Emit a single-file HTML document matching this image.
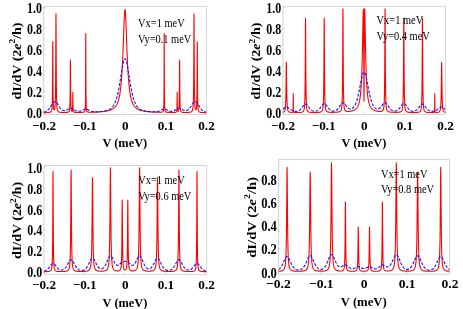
<!DOCTYPE html>
<html><head><meta charset="utf-8"><title>dI/dV</title>
<style>
html,body{margin:0;padding:0;background:#fff;}
svg{display:block;filter:blur(0.35px);}
text{font-family:"Liberation Serif",serif;fill:#000;}
.tk{font-size:12px;font-weight:bold;}
.xt{font-size:13.2px;font-weight:bold;}
.xl{font-size:12.4px;font-weight:bold;}
.ax{font-size:12px;font-weight:bold;}
.an{font-size:10.4px;}
</style></head><body>
<svg width="463" height="309" viewBox="0 0 463 309">
<rect width="463" height="309" fill="#fff"/>
<g id="p0">
<path d="M43.8,114.5v-2.2M64.1,114.5v-1.2M84.4,114.5v-2.2M104.7,114.5v-1.2M125,114.5v-2.2M145.3,114.5v-1.2M165.6,114.5v-2.2M185.9,114.5v-1.2M206.2,114.5v-2.2M43.7,112.8h2.2M43.7,107.55h1.2M43.7,102.3h1.2M43.7,97.05h1.2M43.7,91.8h2.2M43.7,86.55h1.2M43.7,81.3h1.2M43.7,76.05h1.2M43.7,70.8h2.2M43.7,65.55h1.2M43.7,60.3h1.2M43.7,55.05h1.2M43.7,49.8h2.2M43.7,44.55h1.2M43.7,39.3h1.2M43.7,34.05h1.2M43.7,28.8h2.2M43.7,23.55h1.2M43.7,18.3h1.2M43.7,13.05h1.2M43.7,7.8h2.2" stroke="#c8c8c8" stroke-width="0.6" fill="none"/>
<rect x="43.7" y="6.3" width="162.8" height="108.2" fill="none" stroke="#c8c8c8" stroke-width="0.75"/>
<clipPath id="c0"><rect x="43.7" y="6.3" width="162.8" height="108.2"/></clipPath>
<g clip-path="url(#c0)">
<path d="M43.7,112.64 L43.95,112.63 L44.2,112.63 L44.45,112.62 L44.7,112.62 L44.95,112.61 L45.2,112.61 L45.45,112.6 L45.7,112.59 L45.95,112.59 L46.2,112.58 L46.45,112.57 L46.7,112.56 L46.95,112.55 L47.2,112.54 L47.45,112.53 L47.7,112.51 L47.95,112.5 L48.2,112.48 L48.45,112.46 L48.7,112.43 L48.95,112.4 L49.2,112.37 L49.45,112.33 L49.7,112.28 L49.95,112.21 L50.2,112.13 L50.45,112.03 L50.7,111.89 L50.95,111.7 L51.2,111.41 L51.45,110.95 L51.61,110.48 L51.7,110.15 L51.95,108.55 L51.99,108.18 L52.17,105.25 L52.2,104.59 L52.36,98.17 L52.45,90.84 L52.45,90.58 L52.55,77.02 L52.62,60.45 L52.68,47.62 L52.7,43.81 L52.73,41.79 L52.79,47.58 L52.84,60.37 L52.92,76.9 L52.95,82.36 L53.01,90.39 L53.1,97.92 L53.2,102.32 L53.29,104.86 L53.45,107.35 L53.48,107.64 L53.7,109.08 L53.85,109.53 L53.95,109.7 L54.2,109.8 L54.45,109.49 L54.54,109.26 L54.7,108.7 L54.95,107.11 L55.02,106.39 L55.2,103.76 L55.26,102.41 L55.45,95.59 L55.5,92.6 L55.62,82 L55.7,70.67 L55.74,63.04 L55.84,39.83 L55.91,21.87 L55.95,15.25 L55.98,13.73 L56.05,21.89 L56.12,39.87 L56.2,58.91 L56.22,63.11 L56.34,82.1 L56.45,92.13 L56.46,92.74 L56.7,102.63 L56.7,102.66 L56.94,106.71 L56.95,106.84 L57.2,108.86 L57.42,109.87 L57.45,109.99 L57.7,110.67 L57.95,111.12 L58.2,111.43 L58.45,111.65 L58.7,111.81 L58.95,111.94 L59.2,112.04 L59.45,112.11 L59.7,112.17 L59.95,112.23 L60.2,112.27 L60.45,112.3 L60.7,112.33 L60.95,112.36 L61.2,112.38 L61.45,112.39 L61.7,112.41 L61.95,112.42 L62.2,112.43 L62.45,112.44 L62.7,112.45 L62.95,112.45 L63.2,112.46 L63.45,112.46 L63.7,112.47 L63.95,112.47 L64.2,112.47 L64.45,112.47 L64.7,112.46 L64.95,112.46 L65.2,112.46 L65.45,112.45 L65.7,112.44 L65.95,112.43 L66.2,112.42 L66.45,112.4 L66.7,112.38 L66.95,112.36 L67.2,112.33 L67.45,112.29 L67.7,112.24 L67.95,112.17 L68.2,112.08 L68.45,111.96 L68.7,111.77 L68.95,111.48 L69.15,111.12 L69.2,111.01 L69.45,110.13 L69.57,109.44 L69.7,108.24 L69.77,107.28 L69.95,103.14 L69.98,102.02 L70.08,96.36 L70.19,86.26 L70.2,84.47 L70.27,73.91 L70.33,64.34 L70.39,60.01 L70.45,63.72 L70.45,64.34 L70.52,73.9 L70.6,86.25 L70.7,96.12 L70.7,96.34 L70.81,101.98 L70.95,106.12 L71.01,107.22 L71.2,109.22 L71.22,109.36 L71.45,110.47 L71.63,110.94 L71.7,111.05 L71.95,111.28 L72.12,111.27 L72.2,111.19 L72.36,110.8 L72.45,110.25 L72.47,110.04 L72.59,108.09 L72.65,105.97 L72.7,103.02 L72.71,102.15 L72.76,97.47 L72.79,93.85 L72.83,92.22 L72.86,93.87 L72.9,97.52 L72.95,102.22 L72.95,102.46 L73.01,106.08 L73.07,108.24 L73.18,110.26 L73.2,110.42 L73.3,111.1 L73.45,111.6 L73.54,111.77 L73.7,111.97 L73.95,112.14 L74.2,112.23 L74.45,112.29 L74.7,112.33 L74.95,112.35 L75.2,112.37 L75.45,112.39 L75.7,112.4 L75.95,112.41 L76.2,112.42 L76.45,112.43 L76.7,112.43 L76.95,112.43 L77.2,112.43 L77.45,112.44 L77.7,112.44 L77.95,112.44 L78.2,112.44 L78.45,112.44 L78.7,112.43 L78.95,112.43 L79.2,112.43 L79.45,112.43 L79.7,112.42 L79.95,112.42 L80.2,112.41 L80.45,112.41 L80.7,112.4 L80.95,112.39 L81.2,112.38 L81.45,112.38 L81.7,112.36 L81.95,112.35 L82.2,112.34 L82.45,112.32 L82.7,112.29 L82.95,112.27 L83.2,112.23 L83.45,112.18 L83.7,112.12 L83.95,112.03 L84.2,111.9 L84.45,111.69 L84.7,111.32 L84.95,110.58 L85.02,110.27 L85.2,108.77 L85.27,107.76 L85.4,104.51 L85.45,102.18 L85.53,96.64 L85.59,88.16 L85.65,73.01 L85.7,56.04 L85.7,54.48 L85.74,40.14 L85.78,33.63 L85.82,40.13 L85.86,54.48 L85.91,73.01 L85.95,83.95 L85.97,88.15 L86.04,96.63 L86.16,104.5 L86.2,105.72 L86.29,107.74 L86.45,109.62 L86.55,110.24 L86.7,110.88 L86.95,111.44 L87.2,111.73 L87.45,111.89 L87.7,112 L87.95,112.07 L88.2,112.12 L88.45,112.15 L88.7,112.17 L88.95,112.19 L89.2,112.2 L89.45,112.21 L89.7,112.21 L89.95,112.22 L90.2,112.22 L90.45,112.22 L90.7,112.22 L90.95,112.21 L91.2,112.21 L91.45,112.21 L91.7,112.2 L91.95,112.2 L92.2,112.19 L92.45,112.18 L92.7,112.18 L92.95,112.17 L93.2,112.16 L93.45,112.16 L93.7,112.15 L93.95,112.14 L94.2,112.13 L94.45,112.12 L94.7,112.11 L94.95,112.1 L95.2,112.09 L95.45,112.08 L95.7,112.07 L95.95,112.06 L96.2,112.05 L96.45,112.03 L96.7,112.02 L96.95,112.01 L97.2,111.99 L97.45,111.98 L97.7,111.97 L97.95,111.95 L98.2,111.94 L98.45,111.92 L98.7,111.91 L98.95,111.89 L99.2,111.87 L99.45,111.86 L99.7,111.84 L99.95,111.82 L100.2,111.8 L100.45,111.78 L100.7,111.76 L100.95,111.74 L101.2,111.72 L101.45,111.69 L101.7,111.67 L101.95,111.65 L102.2,111.62 L102.45,111.6 L102.7,111.57 L102.95,111.54 L103.2,111.52 L103.45,111.49 L103.7,111.46 L103.95,111.43 L104.2,111.39 L104.45,111.36 L104.7,111.32 L104.95,111.29 L105.2,111.25 L105.45,111.21 L105.7,111.17 L105.95,111.13 L106.2,111.09 L106.45,111.04 L106.7,110.99 L106.95,110.95 L107.2,110.89 L107.45,110.84 L107.7,110.79 L107.95,110.73 L108.2,110.67 L108.45,110.6 L108.7,110.54 L108.95,110.47 L109.2,110.4 L109.45,110.32 L109.7,110.24 L109.95,110.16 L110.2,110.07 L110.4,110 L110.45,109.98 L110.7,109.88 L110.95,109.78 L111.2,109.67 L111.45,109.56 L111.7,109.44 L111.95,109.32 L112.2,109.19 L112.45,109.05 L112.7,108.9 L112.95,108.74 L113.2,108.58 L113.45,108.4 L113.7,108.21 L113.95,108.01 L114.2,107.8 L114.45,107.57 L114.7,107.33 L114.95,107.07 L115.2,106.79 L115.27,106.71 L115.45,106.49 L115.7,106.17 L115.95,105.82 L116.2,105.45 L116.45,105.05 L116.7,104.61 L116.95,104.14 L117.2,103.62 L117.45,103.06 L117.7,102.45 L117.7,102.45 L117.95,101.79 L118.2,101.06 L118.45,100.26 L118.7,99.37 L118.95,98.4 L119.2,97.32 L119.45,96.12 L119.7,94.79 L119.95,93.31 L120.13,92.11 L120.2,91.66 L120.45,89.8 L120.7,87.72 L120.95,85.37 L121.2,82.73 L121.35,80.97 L121.45,79.74 L121.7,76.38 L121.95,72.58 L122.2,68.3 L122.45,63.51 L122.57,61.08 L122.7,58.18 L122.95,52.31 L123.2,45.96 L123.45,39.23 L123.54,36.75 L123.7,32.34 L123.95,25.61 L124.2,19.46 L124.27,17.91 L124.45,14.4 L124.7,10.92 L124.95,9.41 L125,9.37 L125.2,10.06 L125.45,12.79 L125.7,17.28 L125.73,17.91 L125.95,23.05 L126.2,29.61 L126.45,36.48 L126.46,36.75 L126.7,43.3 L126.95,49.83 L127.2,55.9 L127.43,61.08 L127.45,61.45 L127.7,66.45 L127.95,70.93 L128.2,74.91 L128.45,78.45 L128.65,80.97 L128.7,81.58 L128.95,84.35 L129.2,86.81 L129.45,89 L129.7,90.94 L129.87,92.11 L129.95,92.67 L130.2,94.22 L130.45,95.61 L130.7,96.86 L130.95,97.98 L131.2,98.99 L131.45,99.91 L131.7,100.75 L131.95,101.5 L132.2,102.2 L132.3,102.45 L132.45,102.83 L132.7,103.41 L132.95,103.94 L133.2,104.43 L133.45,104.88 L133.7,105.29 L133.95,105.68 L134.2,106.03 L134.45,106.36 L134.7,106.67 L134.73,106.71 L134.95,106.96 L135.2,107.23 L135.45,107.48 L135.7,107.71 L135.95,107.93 L136.2,108.13 L136.45,108.33 L136.7,108.51 L136.95,108.68 L137.2,108.84 L137.45,108.99 L137.7,109.13 L137.95,109.27 L138.2,109.39 L138.45,109.52 L138.7,109.63 L138.95,109.74 L139.2,109.84 L139.45,109.94 L139.6,110 L139.7,110.03 L139.95,110.12 L140.2,110.21 L140.45,110.29 L140.7,110.37 L140.95,110.44 L141.2,110.51 L141.45,110.58 L141.7,110.64 L141.95,110.7 L142.2,110.76 L142.45,110.82 L142.7,110.87 L142.95,110.92 L143.2,110.97 L143.45,111.02 L143.7,111.07 L143.95,111.11 L144.2,111.16 L144.45,111.2 L144.7,111.24 L144.95,111.27 L145.2,111.31 L145.45,111.35 L145.7,111.38 L145.95,111.41 L146.2,111.44 L146.45,111.47 L146.7,111.5 L146.95,111.53 L147.2,111.56 L147.45,111.59 L147.7,111.61 L147.95,111.64 L148.2,111.66 L148.45,111.69 L148.7,111.71 L148.95,111.73 L149.2,111.75 L149.45,111.77 L149.7,111.79 L149.95,111.81 L150.2,111.83 L150.45,111.85 L150.7,111.87 L150.95,111.88 L151.2,111.9 L151.45,111.92 L151.7,111.93 L151.95,111.95 L152.2,111.96 L152.45,111.98 L152.7,111.99 L152.95,112 L153.2,112.02 L153.45,112.03 L153.7,112.04 L153.95,112.05 L154.2,112.06 L154.45,112.08 L154.7,112.09 L154.95,112.1 L155.2,112.11 L155.45,112.12 L155.7,112.13 L155.95,112.13 L156.2,112.14 L156.45,112.15 L156.7,112.16 L156.95,112.17 L157.2,112.17 L157.45,112.18 L157.7,112.19 L157.95,112.19 L158.2,112.2 L158.45,112.2 L158.7,112.21 L158.95,112.21 L159.2,112.21 L159.45,112.22 L159.7,112.22 L159.95,112.22 L160.2,112.21 L160.45,112.21 L160.7,112.2 L160.95,112.19 L161.2,112.18 L161.45,112.16 L161.7,112.13 L161.95,112.09 L162.2,112.03 L162.45,111.94 L162.7,111.8 L162.95,111.57 L163.2,111.15 L163.45,110.26 L163.45,110.24 L163.7,107.9 L163.71,107.74 L163.84,104.5 L163.95,97.99 L163.96,96.63 L164.03,88.15 L164.09,73.01 L164.14,54.48 L164.18,40.13 L164.2,35.45 L164.22,33.63 L164.26,40.14 L164.3,54.48 L164.35,73.01 L164.41,88.16 L164.45,93.93 L164.47,96.64 L164.6,104.51 L164.7,107.21 L164.73,107.76 L164.95,110.07 L164.98,110.27 L165.2,111.09 L165.45,111.57 L165.7,111.83 L165.95,111.99 L166.2,112.09 L166.45,112.16 L166.7,112.21 L166.95,112.25 L167.2,112.28 L167.45,112.31 L167.7,112.33 L167.95,112.35 L168.2,112.36 L168.45,112.37 L168.7,112.38 L168.95,112.39 L169.2,112.4 L169.45,112.4 L169.7,112.41 L169.95,112.42 L170.2,112.42 L170.45,112.42 L170.7,112.43 L170.95,112.43 L171.2,112.43 L171.45,112.43 L171.7,112.44 L171.95,112.44 L172.2,112.44 L172.45,112.44 L172.7,112.44 L172.95,112.43 L173.2,112.43 L173.45,112.43 L173.7,112.42 L173.95,112.42 L174.2,112.41 L174.45,112.4 L174.7,112.38 L174.95,112.36 L175.2,112.34 L175.45,112.3 L175.7,112.26 L175.95,112.18 L176.2,112.05 L176.45,111.79 L176.46,111.77 L176.7,111.1 L176.7,111.09 L176.82,110.26 L176.93,108.24 L176.95,107.79 L176.99,106.08 L177.05,102.22 L177.1,97.52 L177.14,93.87 L177.17,92.22 L177.2,93.34 L177.21,93.85 L177.24,97.47 L177.29,102.15 L177.35,105.97 L177.41,108.09 L177.45,109.03 L177.53,110.04 L177.64,110.8 L177.7,110.99 L177.88,111.27 L177.95,111.29 L178.2,111.18 L178.37,110.94 L178.45,110.76 L178.7,109.84 L178.78,109.36 L178.95,107.74 L178.99,107.22 L179.19,101.98 L179.2,101.72 L179.3,96.34 L179.4,86.25 L179.45,79.21 L179.48,73.9 L179.55,64.34 L179.61,60.01 L179.67,64.34 L179.7,68.85 L179.73,73.91 L179.81,86.26 L179.92,96.36 L179.95,98.54 L180.02,102.02 L180.2,106.84 L180.23,107.28 L180.43,109.44 L180.45,109.55 L180.7,110.72 L180.85,111.12 L180.95,111.32 L181.2,111.67 L181.45,111.89 L181.7,112.04 L181.95,112.14 L182.2,112.21 L182.45,112.27 L182.7,112.31 L182.95,112.35 L183.2,112.37 L183.45,112.39 L183.7,112.41 L183.95,112.43 L184.2,112.44 L184.45,112.45 L184.7,112.45 L184.95,112.46 L185.2,112.46 L185.45,112.46 L185.7,112.47 L185.95,112.47 L186.2,112.47 L186.45,112.46 L186.7,112.46 L186.95,112.46 L187.2,112.45 L187.45,112.44 L187.7,112.44 L187.95,112.43 L188.2,112.41 L188.45,112.4 L188.7,112.38 L188.95,112.36 L189.2,112.34 L189.45,112.31 L189.7,112.28 L189.95,112.24 L190.2,112.2 L190.45,112.14 L190.7,112.07 L190.95,111.98 L191.2,111.87 L191.45,111.72 L191.7,111.52 L191.95,111.25 L192.2,110.87 L192.45,110.3 L192.58,109.87 L192.7,109.39 L192.95,107.81 L193.06,106.71 L193.2,104.75 L193.3,102.63 L193.45,97.67 L193.54,92.74 L193.66,82.1 L193.7,77.02 L193.78,63.11 L193.88,39.87 L193.95,21.89 L193.95,21.5 L194.02,13.73 L194.09,21.87 L194.16,39.83 L194.2,49.32 L194.26,63.04 L194.38,82 L194.45,88.98 L194.5,92.6 L194.7,101.4 L194.74,102.41 L194.95,106.07 L194.98,106.39 L195.2,108.19 L195.45,109.24 L195.46,109.26 L195.7,109.72 L195.95,109.79 L196.15,109.53 L196.2,109.41 L196.45,108.25 L196.52,107.64 L196.7,105.05 L196.71,104.86 L196.9,97.92 L196.95,94.03 L196.99,90.39 L197.08,76.9 L197.16,60.37 L197.2,50.03 L197.21,47.58 L197.27,41.79 L197.32,47.62 L197.38,60.45 L197.45,76.19 L197.45,77.02 L197.55,90.58 L197.64,98.17 L197.7,101.22 L197.83,105.25 L197.95,107.42 L198.01,108.18 L198.2,109.65 L198.39,110.48 L198.45,110.68 L198.7,111.25 L198.95,111.59 L199.2,111.82 L199.45,111.98 L199.7,112.1 L199.95,112.18 L200.2,112.25 L200.45,112.31 L200.7,112.35 L200.95,112.39 L201.2,112.42 L201.45,112.45 L201.7,112.47 L201.95,112.49 L202.2,112.51 L202.45,112.52 L202.7,112.53 L202.95,112.55 L203.2,112.56 L203.45,112.57 L203.7,112.58 L203.95,112.58 L204.2,112.59 L204.45,112.6 L204.7,112.6 L204.95,112.61 L205.2,112.62 L205.45,112.62 L205.7,112.63 L205.95,112.63 L206.2,112.63 L206.45,112.64 L206.5,112.64" fill="none" stroke="#ff0000" stroke-width="1.1" stroke-linejoin="round"/>
<path d="M43.7,112.17 L44.2,112.05 L44.7,111.91 L45.2,111.74 L45.7,111.53 L46.2,111.28 L46.7,110.98 L47.2,110.63 L47.7,110.21 L48.2,109.73 L48.7,109.18 L49.2,108.56 L49.7,107.88 L50.2,107.14 L50.7,106.36 L51.2,105.56 L51.7,104.76 L52.2,104 L52.7,103.31 L53.2,102.7 L53.7,102.21 L54.2,101.86 L54.7,101.67 L55.2,101.65 L55.7,101.82 L56.2,102.16 L56.7,102.68 L57.2,103.32 L57.7,104.08 L58.2,104.89 L58.7,105.72 L59.2,106.54 L59.7,107.31 L60.2,108.02 L60.7,108.65 L61.2,109.19 L61.7,109.64 L62.2,110 L62.7,110.28 L63.2,110.48 L63.7,110.6 L64.2,110.66 L64.7,110.64 L65.2,110.56 L65.7,110.43 L66.2,110.23 L66.7,110 L67.2,109.72 L67.7,109.43 L68.2,109.12 L68.7,108.83 L69.2,108.58 L69.7,108.38 L70.2,108.25 L70.7,108.2 L71.2,108.24 L71.7,108.36 L72.2,108.55 L72.7,108.8 L73.2,109.09 L73.7,109.41 L74.2,109.72 L74.7,110.03 L75.2,110.32 L75.7,110.58 L76.2,110.81 L76.7,110.99 L77.2,111.14 L77.7,111.24 L78.2,111.3 L78.7,111.32 L79.2,111.3 L79.7,111.24 L80.2,111.13 L80.7,110.99 L81.2,110.8 L81.7,110.59 L82.2,110.34 L82.7,110.07 L83.2,109.8 L83.7,109.53 L84.2,109.3 L84.7,109.1 L85.2,108.97 L85.7,108.92 L86.2,108.94 L86.7,109.04 L87.2,109.21 L87.7,109.43 L88.2,109.69 L88.7,109.96 L89.2,110.24 L89.7,110.5 L90.2,110.75 L90.7,110.97 L91.2,111.16 L91.7,111.32 L92.2,111.45 L92.7,111.57 L93.2,111.65 L93.7,111.72 L94.2,111.78 L94.7,111.81 L95.2,111.84 L95.7,111.85 L96.2,111.86 L96.7,111.86 L97.2,111.85 L97.7,111.83 L98.2,111.81 L98.7,111.78 L99.2,111.75 L99.7,111.71 L100.2,111.67 L100.7,111.63 L101.2,111.58 L101.7,111.52 L102.2,111.46 L102.7,111.4 L103.2,111.32 L103.7,111.24 L104.2,111.16 L104.7,111.06 L105.2,110.96 L105.7,110.84 L106.2,110.71 L106.7,110.57 L107.2,110.41 L107.7,110.23 L108.2,110.04 L108.7,109.82 L109.2,109.57 L109.7,109.29 L110.2,108.98 L110.7,108.63 L111.2,108.23 L111.7,107.77 L112.2,107.26 L112.7,106.67 L113.2,106 L113.7,105.23 L114.2,104.36 L114.7,103.37 L115.2,102.25 L115.7,100.97 L116.2,99.53 L116.7,97.9 L117.2,96.07 L117.7,94.03 L118.2,91.77 L118.7,89.29 L119.2,86.6 L119.7,83.72 L120.2,80.67 L120.7,77.51 L121.2,74.31 L121.7,71.15 L122.2,68.12 L122.7,65.34 L123.2,62.92 L123.7,60.98 L124.2,59.59 L124.7,58.85 L125.2,58.78 L125.7,59.39 L126.2,60.65 L126.7,62.49 L127.2,64.82 L127.7,67.54 L128.2,70.53 L128.7,73.67 L129.2,76.87 L129.7,80.05 L130.2,83.12 L130.7,86.04 L131.2,88.77 L131.7,91.29 L132.2,93.59 L132.7,95.68 L133.2,97.55 L133.7,99.22 L134.2,100.7 L134.7,102.01 L135.2,103.16 L135.7,104.18 L136.2,105.07 L136.7,105.85 L137.2,106.54 L137.7,107.14 L138.2,107.67 L138.7,108.14 L139.2,108.55 L139.7,108.91 L140.2,109.24 L140.7,109.52 L141.2,109.77 L141.7,110 L142.2,110.2 L142.7,110.38 L143.2,110.54 L143.7,110.68 L144.2,110.81 L144.7,110.93 L145.2,111.04 L145.7,111.14 L146.2,111.23 L146.7,111.31 L147.2,111.38 L147.7,111.45 L148.2,111.51 L148.7,111.57 L149.2,111.62 L149.7,111.67 L150.2,111.71 L150.7,111.74 L151.2,111.78 L151.7,111.8 L152.2,111.83 L152.7,111.84 L153.2,111.85 L153.7,111.86 L154.2,111.86 L154.7,111.84 L155.2,111.82 L155.7,111.79 L156.2,111.74 L156.7,111.67 L157.2,111.59 L157.7,111.48 L158.2,111.35 L158.7,111.19 L159.2,111.01 L159.7,110.79 L160.2,110.55 L160.7,110.29 L161.2,110.02 L161.7,109.74 L162.2,109.48 L162.7,109.25 L163.2,109.07 L163.7,108.95 L164.2,108.91 L164.7,108.96 L165.2,109.07 L165.7,109.25 L166.2,109.48 L166.7,109.75 L167.2,110.02 L167.7,110.29 L168.2,110.54 L168.7,110.76 L169.2,110.95 L169.7,111.11 L170.2,111.22 L170.7,111.29 L171.2,111.32 L171.7,111.31 L172.2,111.25 L172.7,111.16 L173.2,111.02 L173.7,110.85 L174.2,110.63 L174.7,110.38 L175.2,110.09 L175.7,109.79 L176.2,109.47 L176.7,109.16 L177.2,108.86 L177.7,108.6 L178.2,108.39 L178.7,108.26 L179.2,108.2 L179.7,108.23 L180.2,108.34 L180.7,108.53 L181.2,108.78 L181.7,109.06 L182.2,109.36 L182.7,109.66 L183.2,109.94 L183.7,110.19 L184.2,110.39 L184.7,110.54 L185.2,110.63 L185.7,110.66 L186.2,110.62 L186.7,110.51 L187.2,110.33 L187.7,110.06 L188.2,109.72 L188.7,109.28 L189.2,108.76 L189.7,108.15 L190.2,107.46 L190.7,106.7 L191.2,105.89 L191.7,105.05 L192.2,104.23 L192.7,103.47 L193.2,102.8 L193.7,102.25 L194.2,101.87 L194.7,101.67 L195.2,101.65 L195.7,101.81 L196.2,102.13 L196.7,102.59 L197.2,103.18 L197.7,103.86 L198.2,104.61 L198.7,105.4 L199.2,106.2 L199.7,106.98 L200.2,107.73 L200.7,108.43 L201.2,109.06 L201.7,109.63 L202.2,110.12 L202.7,110.55 L203.2,110.92 L203.7,111.22 L204.2,111.48 L204.7,111.7 L205.2,111.88 L205.7,112.02 L206.2,112.14" fill="none" stroke="#1a1aff" stroke-width="1.15" stroke-dasharray="3,1.5" stroke-linejoin="round"/>
</g>
<text transform="translate(42.1,118.4) scale(1.0,1.13)" text-anchor="end" class="tk">0.0</text>
<text transform="translate(42.1,97.4) scale(1.0,1.13)" text-anchor="end" class="tk">0.2</text>
<text transform="translate(42.1,76.4) scale(1.0,1.13)" text-anchor="end" class="tk">0.4</text>
<text transform="translate(42.1,55.4) scale(1.0,1.13)" text-anchor="end" class="tk">0.6</text>
<text transform="translate(42.1,34.4) scale(1.0,1.13)" text-anchor="end" class="tk">0.8</text>
<text transform="translate(42.1,13.4) scale(1.0,1.13)" text-anchor="end" class="tk">1.0</text>
<text transform="translate(44.1,129.5) scale(1.0,0.98)" text-anchor="middle" class="xt">−0.2</text>
<text transform="translate(84.7,129.5) scale(1.0,0.98)" text-anchor="middle" class="xt">−0.1</text>
<text transform="translate(125.3,129.5) scale(1.0,0.98)" text-anchor="middle" class="xt">0</text>
<text transform="translate(165.9,129.5) scale(1.0,0.98)" text-anchor="middle" class="xt">0.1</text>
<text transform="translate(206.5,129.5) scale(1.0,0.98)" text-anchor="middle" class="xt">0.2</text>
<text transform="translate(124.8,146.9) scale(1.0,1.05)" text-anchor="middle" class="xl">V (meV)</text>
<text transform="translate(21.1,61) rotate(-90) scale(1.166,1.0)" text-anchor="middle" class="ax">dI/dV (2<tspan font-style="italic">e</tspan><tspan dy="-5.8" font-size="8">2</tspan><tspan dy="5.8">/h)</tspan></text>
<text transform="translate(138.1,27.2) scale(1.0,1.18)" text-anchor="start" class="an">Vx=1 meV</text>
<text transform="translate(138.1,42.6) scale(1.0,1.18)" text-anchor="start" class="an">Vy=0.1 meV</text>
</g>
<g id="p1">
<path d="M282.7,114.5v-2.2M303.02,114.5v-1.2M323.35,114.5v-2.2M343.68,114.5v-1.2M364,114.5v-2.2M384.32,114.5v-1.2M404.65,114.5v-2.2M424.98,114.5v-1.2M445.3,114.5v-2.2M282.9,112.8h2.2M282.9,107.55h1.2M282.9,102.3h1.2M282.9,97.05h1.2M282.9,91.8h2.2M282.9,86.55h1.2M282.9,81.3h1.2M282.9,76.05h1.2M282.9,70.8h2.2M282.9,65.55h1.2M282.9,60.3h1.2M282.9,55.05h1.2M282.9,49.8h2.2M282.9,44.55h1.2M282.9,39.3h1.2M282.9,34.05h1.2M282.9,28.8h2.2M282.9,23.55h1.2M282.9,18.3h1.2M282.9,13.05h1.2M282.9,7.8h2.2" stroke="#c8c8c8" stroke-width="0.6" fill="none"/>
<rect x="282.9" y="6.3" width="162.7" height="108.2" fill="none" stroke="#c8c8c8" stroke-width="0.75"/>
<clipPath id="c1"><rect x="282.9" y="6.3" width="162.7" height="108.2"/></clipPath>
<g clip-path="url(#c1)">
<path d="M282.9,112.25 L283.15,112.17 L283.4,112.07 L283.65,111.94 L283.9,111.77 L284.15,111.55 L284.3,111.37 L284.4,111.23 L284.65,110.78 L284.9,110.09 L284.99,109.77 L285.15,108.97 L285.33,107.69 L285.4,107.01 L285.65,103.15 L285.67,102.65 L285.84,97.22 L285.9,94.64 L286.02,87.53 L286.15,75.92 L286.15,75.67 L286.26,66.49 L286.36,62.33 L286.4,63.05 L286.46,66.49 L286.56,75.67 L286.65,83.45 L286.7,87.52 L286.87,97.22 L286.9,98.29 L287.04,102.64 L287.15,104.75 L287.39,107.68 L287.4,107.79 L287.65,109.4 L287.73,109.75 L287.9,110.34 L288.15,110.93 L288.4,111.33 L288.42,111.35 L288.65,111.61 L288.9,111.81 L289.15,111.96 L289.4,112.07 L289.65,112.16 L289.9,112.23 L290.15,112.29 L290.4,112.33 L290.65,112.37 L290.9,112.4 L291.15,112.42 L291.4,112.44 L291.65,112.44 L291.9,112.44 L292.15,112.42 L292.4,112.37 L292.65,112.22 L292.78,112.04 L292.9,111.68 L292.94,111.44 L293.03,110.67 L293.11,108.78 L293.15,106.74 L293.15,106.55 L293.19,103.11 L293.22,98.67 L293.24,95.22 L293.27,93.66 L293.29,95.22 L293.32,98.67 L293.35,103.12 L293.39,106.75 L293.4,107.31 L293.43,108.79 L293.51,110.68 L293.59,111.46 L293.65,111.75 L293.76,112.06 L293.9,112.27 L294.15,112.42 L294.4,112.49 L294.65,112.52 L294.9,112.54 L295.15,112.55 L295.4,112.56 L295.65,112.57 L295.9,112.57 L296.15,112.57 L296.4,112.57 L296.65,112.57 L296.9,112.57 L297.15,112.57 L297.4,112.56 L297.65,112.56 L297.9,112.55 L298.15,112.54 L298.4,112.54 L298.65,112.53 L298.9,112.52 L299.15,112.51 L299.4,112.49 L299.65,112.48 L299.9,112.46 L300.15,112.44 L300.4,112.41 L300.65,112.39 L300.9,112.35 L301.15,112.31 L301.4,112.27 L301.65,112.21 L301.9,112.15 L302.15,112.07 L302.4,111.97 L302.65,111.84 L302.9,111.67 L303.15,111.45 L303.4,111.15 L303.65,110.73 L303.89,110.13 L303.9,110.11 L304.15,109.14 L304.4,107.52 L304.44,107.12 L304.65,104.52 L304.72,103.23 L304.9,98.14 L304.99,93.78 L305.13,83.6 L305.15,81.83 L305.27,65.43 L305.38,43.19 L305.4,38.78 L305.46,25.98 L305.55,18.18 L305.63,25.98 L305.65,30.13 L305.71,43.19 L305.82,65.43 L305.9,77.17 L305.96,83.6 L306.1,93.77 L306.15,96.46 L306.37,103.22 L306.4,103.8 L306.65,107.11 L306.65,107.15 L306.9,108.93 L307.15,109.97 L307.2,110.12 L307.4,110.63 L307.65,111.08 L307.9,111.39 L308.15,111.62 L308.4,111.79 L308.65,111.92 L308.9,112.03 L309.15,112.11 L309.4,112.18 L309.65,112.23 L309.9,112.28 L310.15,112.31 L310.4,112.35 L310.65,112.37 L310.9,112.39 L311.15,112.41 L311.4,112.43 L311.65,112.44 L311.9,112.46 L312.15,112.47 L312.4,112.47 L312.65,112.48 L312.9,112.49 L313.15,112.49 L313.4,112.5 L313.65,112.5 L313.9,112.5 L314.15,112.5 L314.4,112.5 L314.65,112.5 L314.9,112.5 L315.15,112.5 L315.4,112.49 L315.65,112.49 L315.9,112.49 L316.15,112.48 L316.4,112.47 L316.65,112.47 L316.9,112.46 L317.15,112.45 L317.4,112.44 L317.65,112.42 L317.9,112.41 L318.15,112.39 L318.4,112.38 L318.65,112.35 L318.9,112.33 L319.15,112.3 L319.4,112.27 L319.65,112.23 L319.9,112.18 L320.15,112.13 L320.4,112.06 L320.65,111.98 L320.9,111.88 L321.15,111.76 L321.4,111.6 L321.65,111.4 L321.9,111.13 L322.15,110.75 L322.4,110.21 L322.46,110.05 L322.65,109.41 L322.9,108.13 L323.04,107.04 L323.15,105.93 L323.33,103.14 L323.4,101.69 L323.62,93.69 L323.65,92.22 L323.77,83.51 L323.9,67.47 L323.91,65.34 L324.03,43.1 L324.12,25.89 L324.15,21.21 L324.2,18.09 L324.29,25.89 L324.38,43.1 L324.4,47.76 L324.49,65.33 L324.64,83.51 L324.65,84.5 L324.78,93.68 L324.9,98.59 L325.07,103.13 L325.15,104.45 L325.36,107.02 L325.4,107.32 L325.65,108.92 L325.9,109.88 L325.95,110.02 L326.15,110.51 L326.4,110.94 L326.65,111.25 L326.9,111.48 L327.15,111.65 L327.4,111.78 L327.65,111.88 L327.9,111.97 L328.15,112.03 L328.4,112.09 L328.65,112.13 L328.9,112.17 L329.15,112.2 L329.4,112.23 L329.65,112.25 L329.9,112.27 L330.15,112.28 L330.4,112.3 L330.65,112.31 L330.9,112.32 L331.15,112.32 L331.4,112.33 L331.65,112.33 L331.9,112.33 L332.15,112.34 L332.4,112.34 L332.65,112.34 L332.9,112.33 L333.15,112.33 L333.4,112.33 L333.65,112.33 L333.9,112.32 L334.15,112.31 L334.4,112.31 L334.65,112.3 L334.9,112.29 L335.15,112.28 L335.4,112.27 L335.65,112.26 L335.9,112.24 L336.15,112.23 L336.4,112.21 L336.65,112.19 L336.9,112.17 L337.15,112.15 L337.4,112.12 L337.65,112.09 L337.9,112.06 L338.15,112.02 L338.4,111.98 L338.65,111.93 L338.9,111.87 L339.15,111.8 L339.4,111.71 L339.65,111.61 L339.9,111.48 L340.15,111.31 L340.4,111.1 L340.65,110.82 L340.9,110.44 L341.15,109.9 L341.29,109.47 L341.4,109.08 L341.65,107.78 L341.84,106.16 L341.9,105.53 L342.12,101.88 L342.15,101.14 L342.39,91.53 L342.4,91.15 L342.53,80.38 L342.65,63.85 L342.67,60.49 L342.78,36.15 L342.86,17.31 L342.9,11.27 L342.94,8.76 L343.03,17.3 L343.11,36.13 L343.15,46.12 L343.22,60.46 L343.36,80.34 L343.4,84.67 L343.49,91.47 L343.65,98.56 L343.77,101.8 L343.9,104.25 L344.04,106.04 L344.15,107.02 L344.4,108.55 L344.59,109.29 L344.65,109.47 L344.9,110.07 L345.15,110.47 L345.4,110.75 L345.65,110.96 L345.9,111.1 L346.15,111.21 L346.4,111.3 L346.65,111.36 L346.9,111.4 L347.15,111.43 L347.4,111.45 L347.65,111.47 L347.9,111.47 L348.15,111.47 L348.4,111.46 L348.65,111.45 L348.9,111.44 L349.15,111.42 L349.4,111.39 L349.65,111.36 L349.9,111.33 L350.15,111.3 L350.4,111.26 L350.65,111.22 L350.9,111.17 L351.15,111.12 L351.4,111.07 L351.65,111.01 L351.9,110.94 L352.15,110.88 L352.4,110.8 L352.65,110.73 L352.9,110.64 L353.15,110.55 L353.4,110.45 L353.65,110.35 L353.9,110.24 L354.15,110.11 L354.4,109.98 L354.65,109.84 L354.9,109.68 L355.15,109.51 L355.4,109.33 L355.65,109.13 L355.9,108.91 L356.15,108.67 L356.4,108.41 L356.65,108.12 L356.9,107.8 L357.15,107.45 L357.4,107.06 L357.65,106.62 L357.9,106.13 L358.15,105.58 L358.4,104.96 L358.65,104.25 L358.9,103.45 L359.15,102.53 L359.4,101.47 L359.65,100.24 L359.9,98.8 L360.15,97.11 L360.4,95.11 L360.65,92.72 L360.9,89.83 L361.15,86.33 L361.4,82.03 L361.56,78.73 L361.65,76.71 L361.9,70.09 L362.15,61.83 L362.37,52.76 L362.4,51.59 L362.65,39.24 L362.78,32.07 L362.9,25.33 L363.15,12.65 L363.19,11.27 L363.39,9.28 L363.4,9.53 L363.59,25.21 L363.65,34.53 L363.76,57.79 L363.88,87.16 L363.9,91.44 L364,101.14 L364.12,87.16 L364.15,80.96 L364.24,57.79 L364.4,26.17 L364.41,25.21 L364.61,9.28 L364.65,8.66 L364.81,11.27 L364.9,14.81 L365.15,28.15 L365.22,32.07 L365.4,41.87 L365.63,52.76 L365.65,53.81 L365.9,63.63 L366.15,71.53 L366.4,77.87 L366.44,78.73 L366.65,82.96 L366.9,87.09 L367.15,90.46 L367.4,93.23 L367.65,95.54 L367.9,97.47 L368.15,99.11 L368.4,100.5 L368.65,101.69 L368.9,102.72 L369.15,103.62 L369.4,104.4 L369.65,105.09 L369.9,105.7 L370.15,106.23 L370.4,106.71 L370.65,107.14 L370.9,107.52 L371.15,107.87 L371.4,108.18 L371.65,108.47 L371.9,108.72 L372.15,108.96 L372.4,109.17 L372.65,109.37 L372.9,109.55 L373.15,109.71 L373.4,109.87 L373.65,110.01 L373.9,110.14 L374.15,110.26 L374.4,110.37 L374.65,110.47 L374.9,110.57 L375.15,110.66 L375.4,110.74 L375.65,110.82 L375.9,110.89 L376.15,110.96 L376.4,111.02 L376.65,111.08 L376.9,111.13 L377.15,111.18 L377.4,111.23 L377.65,111.27 L377.9,111.3 L378.15,111.34 L378.4,111.37 L378.65,111.4 L378.9,111.42 L379.15,111.44 L379.4,111.45 L379.65,111.46 L379.9,111.47 L380.15,111.47 L380.4,111.46 L380.65,111.45 L380.9,111.43 L381.15,111.39 L381.4,111.35 L381.65,111.28 L381.9,111.19 L382.15,111.08 L382.4,110.92 L382.65,110.7 L382.9,110.4 L383.15,109.97 L383.4,109.32 L383.41,109.29 L383.65,108.3 L383.9,106.6 L383.96,106.04 L384.15,103.44 L384.23,101.8 L384.4,96.74 L384.51,91.47 L384.64,80.34 L384.65,79.75 L384.78,60.46 L384.89,36.13 L384.9,34.13 L384.97,17.3 L385.06,8.76 L385.14,17.31 L385.15,19.46 L385.22,36.15 L385.33,60.49 L385.4,71.82 L385.47,80.38 L385.61,91.53 L385.65,93.95 L385.88,101.88 L385.9,102.3 L386.15,106.09 L386.16,106.16 L386.4,108.1 L386.65,109.27 L386.71,109.47 L386.9,110.02 L387.15,110.53 L387.4,110.89 L387.65,111.15 L387.9,111.35 L388.15,111.5 L388.4,111.63 L388.65,111.73 L388.9,111.81 L389.15,111.88 L389.4,111.94 L389.65,111.99 L389.9,112.03 L390.15,112.07 L390.4,112.1 L390.65,112.13 L390.9,112.15 L391.15,112.18 L391.4,112.2 L391.65,112.22 L391.9,112.23 L392.15,112.25 L392.4,112.26 L392.65,112.27 L392.9,112.28 L393.15,112.29 L393.4,112.3 L393.65,112.31 L393.9,112.32 L394.15,112.32 L394.4,112.33 L394.65,112.33 L394.9,112.33 L395.15,112.34 L395.4,112.34 L395.65,112.34 L395.9,112.34 L396.15,112.33 L396.4,112.33 L396.65,112.33 L396.9,112.32 L397.15,112.31 L397.4,112.31 L397.65,112.29 L397.9,112.28 L398.15,112.27 L398.4,112.25 L398.65,112.22 L398.9,112.2 L399.15,112.16 L399.4,112.13 L399.65,112.08 L399.9,112.02 L400.15,111.95 L400.4,111.87 L400.65,111.76 L400.9,111.62 L401.15,111.44 L401.4,111.2 L401.65,110.87 L401.9,110.41 L402.05,110.02 L402.15,109.72 L402.4,108.66 L402.64,107.02 L402.65,106.88 L402.9,103.61 L402.93,103.13 L403.15,96.72 L403.22,93.68 L403.36,83.51 L403.4,79.6 L403.51,65.33 L403.62,43.1 L403.65,37.24 L403.71,25.89 L403.8,18.09 L403.88,25.89 L403.9,28.78 L403.97,43.1 L404.09,65.34 L404.15,74.56 L404.23,83.51 L404.38,93.69 L404.4,94.85 L404.65,102.8 L404.67,103.14 L404.9,106.48 L404.96,107.04 L405.15,108.44 L405.4,109.6 L405.54,110.05 L405.65,110.34 L405.9,110.84 L406.15,111.19 L406.4,111.44 L406.65,111.64 L406.9,111.79 L407.15,111.9 L407.4,112 L407.65,112.08 L407.9,112.14 L408.15,112.19 L408.4,112.24 L408.65,112.27 L408.9,112.31 L409.15,112.33 L409.4,112.36 L409.65,112.38 L409.9,112.4 L410.15,112.41 L410.4,112.43 L410.65,112.44 L410.9,112.45 L411.15,112.46 L411.4,112.47 L411.65,112.48 L411.9,112.48 L412.15,112.49 L412.4,112.49 L412.65,112.49 L412.9,112.5 L413.15,112.5 L413.4,112.5 L413.65,112.5 L413.9,112.5 L414.15,112.5 L414.4,112.5 L414.65,112.49 L414.9,112.49 L415.15,112.49 L415.4,112.48 L415.65,112.47 L415.9,112.46 L416.15,112.45 L416.4,112.44 L416.65,112.43 L416.9,112.41 L417.15,112.39 L417.4,112.37 L417.65,112.34 L417.9,112.31 L418.15,112.27 L418.4,112.22 L418.65,112.16 L418.9,112.1 L419.15,112.01 L419.4,111.9 L419.65,111.76 L419.9,111.58 L420.15,111.34 L420.4,111 L420.65,110.52 L420.8,110.12 L420.9,109.8 L421.15,108.65 L421.35,107.11 L421.4,106.65 L421.63,103.22 L421.65,102.78 L421.9,94.01 L421.9,93.77 L422.04,83.6 L422.15,70.22 L422.18,65.43 L422.29,43.19 L422.37,25.98 L422.4,21.77 L422.45,18.18 L422.54,25.98 L422.62,43.19 L422.65,49.83 L422.73,65.43 L422.87,83.6 L422.9,86.56 L423.01,93.78 L423.15,99.88 L423.28,103.23 L423.4,105.3 L423.56,107.12 L423.65,107.92 L423.9,109.37 L424.11,110.13 L424.15,110.26 L424.4,110.83 L424.65,111.22 L424.9,111.5 L425.15,111.71 L425.4,111.87 L425.65,111.99 L425.9,112.08 L426.15,112.16 L426.4,112.23 L426.65,112.28 L426.9,112.32 L427.15,112.36 L427.4,112.39 L427.65,112.42 L427.9,112.44 L428.15,112.46 L428.4,112.48 L428.65,112.49 L428.9,112.51 L429.15,112.52 L429.4,112.53 L429.65,112.54 L429.9,112.55 L430.15,112.55 L430.4,112.56 L430.65,112.56 L430.9,112.57 L431.15,112.57 L431.4,112.57 L431.65,112.57 L431.9,112.57 L432.15,112.57 L432.4,112.57 L432.65,112.56 L432.9,112.55 L433.15,112.54 L433.4,112.51 L433.65,112.48 L433.9,112.4 L434.15,112.21 L434.24,112.06 L434.4,111.5 L434.41,111.46 L434.49,110.68 L434.57,108.79 L434.61,106.75 L434.65,103.12 L434.65,103.08 L434.68,98.67 L434.71,95.22 L434.73,93.66 L434.76,95.22 L434.78,98.67 L434.81,103.11 L434.85,106.74 L434.89,108.78 L434.9,109.01 L434.97,110.67 L435.06,111.44 L435.15,111.87 L435.22,112.04 L435.4,112.27 L435.65,112.38 L435.9,112.43 L436.15,112.44 L436.4,112.44 L436.65,112.43 L436.9,112.42 L437.15,112.39 L437.4,112.36 L437.65,112.33 L437.9,112.28 L438.15,112.22 L438.4,112.15 L438.65,112.05 L438.9,111.93 L439.15,111.77 L439.4,111.56 L439.58,111.35 L439.65,111.26 L439.9,110.83 L440.15,110.19 L440.27,109.75 L440.4,109.14 L440.61,107.68 L440.65,107.33 L440.9,103.83 L440.96,102.64 L441.13,97.22 L441.15,96.21 L441.3,87.52 L441.4,79.02 L441.44,75.67 L441.54,66.49 L441.64,62.33 L441.65,62.36 L441.74,66.49 L441.85,75.67 L441.9,80.58 L441.98,87.53 L442.15,96.96 L442.16,97.22 L442.33,102.65 L442.4,104.17 L442.65,107.5 L442.67,107.69 L442.9,109.24 L443.01,109.77 L443.15,110.25 L443.4,110.88 L443.65,111.3 L443.7,111.37 L443.9,111.6 L444.15,111.81 L444.4,111.97 L444.65,112.09 L444.9,112.18 L445.15,112.26 L445.4,112.32 L445.6,112.36" fill="none" stroke="#ff0000" stroke-width="1.1" stroke-linejoin="round"/>
<path d="M282.9,109.29 L283.4,108.83 L283.9,108.38 L284.4,107.95 L284.9,107.58 L285.4,107.28 L285.9,107.09 L286.4,107.02 L286.9,107.07 L287.4,107.23 L287.9,107.49 L288.4,107.82 L288.9,108.2 L289.4,108.61 L289.9,109 L290.4,109.38 L290.9,109.73 L291.4,110.04 L291.9,110.32 L292.4,110.55 L292.9,110.75 L293.4,110.92 L293.9,111.07 L294.4,111.18 L294.9,111.27 L295.4,111.33 L295.9,111.36 L296.4,111.35 L296.9,111.3 L297.4,111.21 L297.9,111.07 L298.4,110.87 L298.9,110.62 L299.4,110.3 L299.9,109.91 L300.4,109.46 L300.9,108.93 L301.4,108.33 L301.9,107.69 L302.4,107 L302.9,106.32 L303.4,105.65 L303.9,105.06 L304.4,104.58 L304.9,104.25 L305.4,104.09 L305.9,104.13 L306.4,104.36 L306.9,104.76 L307.4,105.29 L307.9,105.92 L308.4,106.59 L308.9,107.28 L309.4,107.95 L309.9,108.58 L310.4,109.15 L310.9,109.65 L311.4,110.08 L311.9,110.44 L312.4,110.73 L312.9,110.96 L313.4,111.14 L313.9,111.25 L314.4,111.32 L314.9,111.33 L315.4,111.29 L315.9,111.2 L316.4,111.06 L316.9,110.86 L317.4,110.6 L317.9,110.27 L318.4,109.88 L318.9,109.41 L319.4,108.87 L319.9,108.26 L320.4,107.59 L320.9,106.87 L321.4,106.14 L321.9,105.43 L322.4,104.78 L322.9,104.23 L323.4,103.83 L323.9,103.6 L324.4,103.57 L324.9,103.75 L325.4,104.11 L325.9,104.62 L326.4,105.25 L326.9,105.94 L327.4,106.66 L327.9,107.37 L328.4,108.04 L328.9,108.65 L329.4,109.2 L329.9,109.67 L330.4,110.07 L330.9,110.4 L331.4,110.66 L331.9,110.86 L332.4,111 L332.9,111.08 L333.4,111.11 L333.9,111.09 L334.4,111.02 L334.9,110.89 L335.4,110.7 L335.9,110.45 L336.4,110.13 L336.9,109.74 L337.4,109.28 L337.9,108.74 L338.4,108.12 L338.9,107.44 L339.4,106.7 L339.9,105.93 L340.4,105.15 L340.9,104.41 L341.4,103.76 L341.9,103.23 L342.4,102.88 L342.9,102.72 L343.4,102.77 L343.9,103.02 L344.4,103.44 L344.9,104 L345.4,104.64 L345.9,105.33 L346.4,106.02 L346.9,106.67 L347.4,107.26 L347.9,107.77 L348.4,108.2 L348.9,108.54 L349.4,108.79 L349.9,108.94 L350.4,109.01 L350.9,109 L351.4,108.89 L351.9,108.7 L352.4,108.42 L352.9,108.05 L353.4,107.57 L353.9,106.98 L354.4,106.26 L354.9,105.41 L355.4,104.41 L355.9,103.25 L356.4,101.9 L356.9,100.36 L357.4,98.61 L357.9,96.66 L358.4,94.5 L358.9,92.14 L359.4,89.63 L359.9,86.99 L360.4,84.31 L360.9,81.65 L361.4,79.13 L361.9,76.83 L362.4,74.87 L362.9,73.36 L363.4,72.36 L363.9,71.94 L364.4,72.12 L364.9,72.89 L365.4,74.21 L365.9,76 L366.4,78.17 L366.9,80.62 L367.4,83.24 L367.9,85.92 L368.4,88.58 L368.9,91.15 L369.4,93.58 L369.9,95.82 L370.4,97.86 L370.9,99.69 L371.4,101.31 L371.9,102.73 L372.4,103.97 L372.9,105.03 L373.4,105.94 L373.9,106.71 L374.4,107.34 L374.9,107.87 L375.4,108.28 L375.9,108.6 L376.4,108.83 L376.9,108.97 L377.4,109.02 L377.9,108.98 L378.4,108.86 L378.9,108.65 L379.4,108.35 L379.9,107.96 L380.4,107.47 L380.9,106.91 L381.4,106.28 L381.9,105.61 L382.4,104.92 L382.9,104.25 L383.4,103.65 L383.9,103.17 L384.4,102.84 L384.9,102.71 L385.4,102.79 L385.9,103.07 L386.4,103.53 L386.9,104.14 L387.4,104.85 L387.9,105.61 L388.4,106.39 L388.9,107.15 L389.4,107.86 L389.9,108.5 L390.4,109.07 L390.9,109.57 L391.4,109.99 L391.9,110.33 L392.4,110.61 L392.9,110.82 L393.4,110.97 L393.9,111.07 L394.4,111.11 L394.9,111.1 L395.4,111.04 L395.9,110.92 L396.4,110.75 L396.9,110.51 L397.4,110.21 L397.9,109.84 L398.4,109.4 L398.9,108.88 L399.4,108.29 L399.9,107.64 L400.4,106.95 L400.9,106.23 L401.4,105.52 L401.9,104.86 L402.4,104.3 L402.9,103.87 L403.4,103.62 L403.9,103.57 L404.4,103.71 L404.9,104.05 L405.4,104.54 L405.9,105.16 L406.4,105.86 L406.9,106.58 L407.4,107.31 L407.9,108 L408.4,108.63 L408.9,109.2 L409.4,109.7 L409.9,110.12 L410.4,110.48 L410.9,110.76 L411.4,110.99 L411.9,111.15 L412.4,111.26 L412.9,111.32 L413.4,111.33 L413.9,111.28 L414.4,111.19 L414.9,111.04 L415.4,110.83 L415.9,110.57 L416.4,110.23 L416.9,109.83 L417.4,109.36 L417.9,108.81 L418.4,108.21 L418.9,107.55 L419.4,106.87 L419.9,106.18 L420.4,105.53 L420.9,104.96 L421.4,104.5 L421.9,104.2 L422.4,104.09 L422.9,104.16 L423.4,104.43 L423.9,104.85 L424.4,105.41 L424.9,106.05 L425.4,106.73 L425.9,107.42 L426.4,108.08 L426.9,108.7 L427.4,109.25 L427.9,109.74 L428.4,110.15 L428.9,110.5 L429.4,110.78 L429.9,111 L430.4,111.16 L430.9,111.27 L431.4,111.33 L431.9,111.36 L432.4,111.34 L432.9,111.3 L433.4,111.22 L433.9,111.12 L434.4,110.99 L434.9,110.83 L435.4,110.64 L435.9,110.42 L436.4,110.16 L436.9,109.86 L437.4,109.53 L437.9,109.16 L438.4,108.77 L438.9,108.36 L439.4,107.97 L439.9,107.62 L440.4,107.33 L440.9,107.12 L441.4,107.03 L441.9,107.05 L442.4,107.19 L442.9,107.45 L443.4,107.79 L443.9,108.2 L444.4,108.65 L444.9,109.11 L445.4,109.56" fill="none" stroke="#1a1aff" stroke-width="1.15" stroke-dasharray="3,1.5" stroke-linejoin="round"/>
</g>
<text transform="translate(281.3,118.4) scale(1.0,1.13)" text-anchor="end" class="tk">0.0</text>
<text transform="translate(281.3,97.4) scale(1.0,1.13)" text-anchor="end" class="tk">0.2</text>
<text transform="translate(281.3,76.4) scale(1.0,1.13)" text-anchor="end" class="tk">0.4</text>
<text transform="translate(281.3,55.4) scale(1.0,1.13)" text-anchor="end" class="tk">0.6</text>
<text transform="translate(281.3,34.4) scale(1.0,1.13)" text-anchor="end" class="tk">0.8</text>
<text transform="translate(281.3,13.4) scale(1.0,1.13)" text-anchor="end" class="tk">1.0</text>
<text transform="translate(283,129.5) scale(1.0,0.98)" text-anchor="middle" class="xt">−0.2</text>
<text transform="translate(323.65,129.5) scale(1.0,0.98)" text-anchor="middle" class="xt">−0.1</text>
<text transform="translate(364.3,129.5) scale(1.0,0.98)" text-anchor="middle" class="xt">0</text>
<text transform="translate(404.95,129.5) scale(1.0,0.98)" text-anchor="middle" class="xt">0.1</text>
<text transform="translate(445.6,129.5) scale(1.0,0.98)" text-anchor="middle" class="xt">0.2</text>
<text transform="translate(363.95,146.9) scale(1.0,1.05)" text-anchor="middle" class="xl">V (meV)</text>
<text transform="translate(260.3,61) rotate(-90) scale(1.166,1.0)" text-anchor="middle" class="ax">dI/dV (2<tspan font-style="italic">e</tspan><tspan dy="-5.8" font-size="8">2</tspan><tspan dy="5.8">/h)</tspan></text>
<text transform="translate(376.6,23.8) scale(1.0,1.18)" text-anchor="start" class="an">Vx=1 meV</text>
<text transform="translate(376.6,39.8) scale(1.0,1.18)" text-anchor="start" class="an">Vy=0.4 meV</text>
</g>
<g id="p2">
<path d="M43.7,274.3v-2.2M64.02,274.3v-1.2M84.35,274.3v-2.2M104.67,274.3v-1.2M125,274.3v-2.2M145.32,274.3v-1.2M165.65,274.3v-2.2M185.98,274.3v-1.2M206.3,274.3v-2.2M43.9,271.8h2.2M43.9,266.56h1.2M43.9,261.32h1.2M43.9,256.08h1.2M43.9,250.84h2.2M43.9,245.6h1.2M43.9,240.36h1.2M43.9,235.12h1.2M43.9,229.88h2.2M43.9,224.64h1.2M43.9,219.4h1.2M43.9,214.16h1.2M43.9,208.92h2.2M43.9,203.68h1.2M43.9,198.44h1.2M43.9,193.2h1.2M43.9,187.96h2.2M43.9,182.72h1.2M43.9,177.48h1.2M43.9,172.24h1.2M43.9,167h2.2" stroke="#c8c8c8" stroke-width="0.6" fill="none"/>
<rect x="43.9" y="165.4" width="162.8" height="108.9" fill="none" stroke="#c8c8c8" stroke-width="0.75"/>
<clipPath id="c2"><rect x="43.9" y="165.4" width="162.8" height="108.9"/></clipPath>
<g clip-path="url(#c2)">
<path d="M43.9,271.69 L44.15,271.68 L44.4,271.68 L44.65,271.67 L44.9,271.67 L45.15,271.66 L45.4,271.65 L45.65,271.65 L45.9,271.64 L46.15,271.63 L46.4,271.62 L46.65,271.6 L46.9,271.59 L47.15,271.58 L47.4,271.56 L47.65,271.54 L47.9,271.52 L48.15,271.49 L48.4,271.46 L48.65,271.43 L48.9,271.39 L49.15,271.34 L49.4,271.28 L49.65,271.21 L49.9,271.12 L50.15,271 L50.4,270.86 L50.65,270.66 L50.9,270.39 L51.15,270.01 L51.4,269.44 L51.53,269.03 L51.65,268.54 L51.9,267.01 L52.02,265.85 L52.15,264.1 L52.27,261.73 L52.4,257.62 L52.52,251.72 L52.64,240.94 L52.65,239.6 L52.76,221.69 L52.86,198.14 L52.9,187.95 L52.93,179.91 L53.01,171.65 L53.08,179.91 L53.15,196.32 L53.16,198.14 L53.26,221.69 L53.38,240.93 L53.4,243.24 L53.5,251.71 L53.65,258.82 L53.75,261.72 L53.9,264.6 L54,265.84 L54.15,267.25 L54.4,268.67 L54.49,269.02 L54.65,269.51 L54.9,270.04 L55.15,270.4 L55.4,270.66 L55.65,270.85 L55.9,270.99 L56.15,271.09 L56.4,271.18 L56.65,271.25 L56.9,271.3 L57.15,271.34 L57.4,271.38 L57.65,271.41 L57.9,271.43 L58.15,271.46 L58.4,271.47 L58.65,271.49 L58.9,271.5 L59.15,271.51 L59.4,271.52 L59.65,271.52 L59.9,271.53 L60.15,271.53 L60.4,271.53 L60.65,271.53 L60.9,271.53 L61.15,271.53 L61.4,271.53 L61.65,271.53 L61.9,271.52 L62.15,271.52 L62.4,271.51 L62.65,271.5 L62.9,271.49 L63.15,271.48 L63.4,271.47 L63.65,271.46 L63.9,271.44 L64.15,271.43 L64.4,271.41 L64.65,271.38 L64.9,271.36 L65.15,271.33 L65.4,271.3 L65.65,271.26 L65.9,271.22 L66.15,271.17 L66.4,271.11 L66.65,271.04 L66.9,270.96 L67.15,270.86 L67.4,270.74 L67.65,270.59 L67.9,270.41 L68.15,270.19 L68.4,269.9 L68.65,269.51 L68.9,269 L68.91,268.97 L69.15,268.28 L69.4,267.24 L69.64,265.73 L69.65,265.67 L69.9,263.11 L70.01,261.55 L70.15,258.64 L70.37,251.38 L70.4,249.96 L70.55,240.43 L70.65,231.27 L70.73,220.88 L70.88,196.96 L70.9,193.26 L70.99,178.45 L71.1,170.05 L71.15,172.08 L71.21,178.45 L71.32,196.96 L71.4,211.45 L71.46,220.88 L71.64,240.43 L71.65,240.87 L71.83,251.38 L71.9,254.32 L72.15,260.82 L72.19,261.54 L72.4,264.33 L72.55,265.73 L72.65,266.4 L72.9,267.71 L73.15,268.6 L73.28,268.95 L73.4,269.22 L73.65,269.67 L73.9,270.01 L74.15,270.27 L74.4,270.47 L74.65,270.64 L74.9,270.77 L75.15,270.87 L75.4,270.96 L75.65,271.04 L75.9,271.1 L76.15,271.15 L76.4,271.2 L76.65,271.24 L76.9,271.27 L77.15,271.3 L77.4,271.33 L77.65,271.35 L77.9,271.37 L78.15,271.39 L78.4,271.4 L78.65,271.41 L78.9,271.42 L79.15,271.43 L79.4,271.44 L79.65,271.45 L79.9,271.45 L80.15,271.46 L80.4,271.46 L80.65,271.46 L80.9,271.46 L81.15,271.46 L81.4,271.46 L81.65,271.46 L81.9,271.46 L82.15,271.45 L82.4,271.45 L82.65,271.44 L82.9,271.44 L83.15,271.43 L83.4,271.42 L83.65,271.41 L83.9,271.4 L84.15,271.38 L84.4,271.37 L84.65,271.35 L84.9,271.33 L85.15,271.31 L85.4,271.29 L85.65,271.26 L85.9,271.23 L86.15,271.19 L86.4,271.15 L86.65,271.11 L86.9,271.06 L87.15,271 L87.4,270.93 L87.65,270.86 L87.9,270.77 L88.15,270.66 L88.4,270.53 L88.65,270.38 L88.9,270.19 L89.15,269.97 L89.4,269.68 L89.65,269.33 L89.76,269.14 L89.9,268.86 L90.15,268.25 L90.4,267.41 L90.65,266.24 L90.67,266.16 L90.9,264.53 L91.12,262.29 L91.15,261.9 L91.4,257.6 L91.57,252.91 L91.65,250.09 L91.8,242.81 L91.9,236.07 L92.03,224.77 L92.15,210.33 L92.21,202.7 L92.34,185.61 L92.4,180.7 L92.48,177.87 L92.62,185.61 L92.65,189.42 L92.75,202.69 L92.9,221.16 L92.93,224.76 L93.15,242.17 L93.16,242.8 L93.39,252.9 L93.4,253.31 L93.65,259.4 L93.84,262.27 L93.9,262.97 L94.15,265.2 L94.29,266.13 L94.4,266.69 L94.65,267.72 L94.9,268.46 L95.15,269.01 L95.2,269.1 L95.4,269.42 L95.65,269.75 L95.9,270.01 L96.15,270.21 L96.4,270.38 L96.65,270.52 L96.9,270.63 L97.15,270.73 L97.4,270.81 L97.65,270.88 L97.9,270.94 L98.15,270.99 L98.4,271.03 L98.65,271.06 L98.9,271.09 L99.15,271.12 L99.4,271.14 L99.65,271.16 L99.9,271.17 L100.15,271.19 L100.4,271.19 L100.65,271.2 L100.9,271.2 L101.15,271.2 L101.4,271.2 L101.65,271.2 L101.9,271.19 L102.15,271.18 L102.4,271.17 L102.65,271.15 L102.9,271.14 L103.15,271.12 L103.4,271.09 L103.65,271.06 L103.9,271.03 L104.15,270.99 L104.4,270.94 L104.65,270.89 L104.9,270.83 L105.15,270.76 L105.4,270.67 L105.65,270.58 L105.9,270.47 L106.15,270.33 L106.4,270.17 L106.65,269.98 L106.9,269.74 L107.15,269.45 L107.4,269.08 L107.55,268.82 L107.65,268.62 L107.9,268.01 L108.15,267.2 L108.4,266.09 L108.5,265.52 L108.65,264.52 L108.9,262.2 L108.98,261.25 L109.15,258.59 L109.4,252.64 L109.45,250.88 L109.65,242.17 L109.69,239.7 L109.9,222.94 L109.93,219.75 L110.12,195.34 L110.15,191.21 L110.26,176.44 L110.4,167.89 L110.41,167.87 L110.55,176.44 L110.65,189.34 L110.69,195.33 L110.88,219.75 L110.9,221.56 L111.12,239.7 L111.15,241.41 L111.36,250.87 L111.4,252.21 L111.65,258.33 L111.84,261.24 L111.9,262.03 L112.15,264.4 L112.31,265.5 L112.4,266 L112.65,267.12 L112.9,267.94 L113.15,268.56 L113.27,268.79 L113.4,269.02 L113.65,269.39 L113.9,269.68 L114.15,269.92 L114.4,270.11 L114.65,270.26 L114.9,270.39 L115.15,270.5 L115.4,270.59 L115.65,270.66 L115.9,270.72 L116.15,270.77 L116.4,270.81 L116.65,270.85 L116.9,270.87 L117.15,270.88 L117.4,270.89 L117.65,270.89 L117.9,270.88 L118.15,270.86 L118.4,270.83 L118.65,270.78 L118.9,270.72 L119.15,270.64 L119.4,270.52 L119.65,270.37 L119.9,270.17 L120.15,269.88 L120.4,269.46 L120.42,269.41 L120.65,268.82 L120.9,267.81 L121.01,267.15 L121.15,266.06 L121.31,264.21 L121.4,262.68 L121.6,257.08 L121.65,255.14 L121.75,249.4 L121.9,235.69 L121.9,235.64 L122.02,218.91 L122.11,205.93 L122.15,201.67 L122.2,200.04 L122.28,205.92 L122.37,218.9 L122.4,223.16 L122.49,235.66 L122.64,249.35 L122.65,250.13 L122.79,257.02 L122.9,260.6 L123.08,264.11 L123.15,265 L123.38,267.01 L123.4,267.16 L123.65,268.34 L123.9,269.04 L123.97,269.18 L124.15,269.47 L124.4,269.74 L124.65,269.89 L124.9,269.96 L125.15,269.95 L125.4,269.87 L125.65,269.7 L125.9,269.4 L126.03,269.18 L126.15,268.93 L126.4,268.15 L126.62,267.01 L126.65,266.83 L126.9,264.37 L126.92,264.11 L127.15,259.2 L127.21,257.02 L127.36,249.35 L127.4,246.51 L127.51,235.66 L127.63,218.9 L127.65,215.39 L127.72,205.92 L127.8,200.04 L127.89,205.93 L127.9,206.74 L127.98,218.91 L128.1,235.69 L128.15,241.18 L128.25,249.4 L128.4,257.08 L128.4,257.23 L128.65,263.57 L128.69,264.21 L128.9,266.5 L128.99,267.15 L129.15,268.06 L129.4,268.97 L129.58,269.41 L129.65,269.55 L129.9,269.94 L130.15,270.21 L130.4,270.41 L130.65,270.55 L130.9,270.66 L131.15,270.73 L131.4,270.79 L131.65,270.83 L131.9,270.86 L132.15,270.88 L132.4,270.89 L132.65,270.89 L132.9,270.88 L133.15,270.86 L133.4,270.84 L133.65,270.81 L133.9,270.76 L134.15,270.71 L134.4,270.65 L134.65,270.57 L134.9,270.48 L135.15,270.37 L135.4,270.23 L135.65,270.07 L135.9,269.87 L136.15,269.63 L136.4,269.32 L136.65,268.94 L136.73,268.79 L136.9,268.45 L137.15,267.8 L137.4,266.93 L137.65,265.72 L137.69,265.5 L137.9,264 L138.15,261.42 L138.16,261.24 L138.4,257.35 L138.64,250.87 L138.65,250.53 L138.88,239.7 L138.9,238.34 L139.12,219.75 L139.15,216.02 L139.31,195.33 L139.4,182.54 L139.45,176.44 L139.59,167.87 L139.65,169.32 L139.74,176.44 L139.88,195.34 L139.9,198.27 L140.07,219.75 L140.15,227.76 L140.31,239.7 L140.4,244.8 L140.55,250.88 L140.65,254.1 L140.9,259.45 L141.02,261.25 L141.15,262.74 L141.4,264.88 L141.5,265.52 L141.65,266.34 L141.9,267.38 L142.15,268.14 L142.4,268.72 L142.45,268.82 L142.65,269.16 L142.9,269.51 L143.15,269.79 L143.4,270.02 L143.65,270.2 L143.9,270.36 L144.15,270.49 L144.4,270.6 L144.65,270.69 L144.9,270.77 L145.15,270.84 L145.4,270.9 L145.65,270.95 L145.9,271 L146.15,271.03 L146.4,271.07 L146.65,271.1 L146.9,271.12 L147.15,271.14 L147.4,271.16 L147.65,271.17 L147.9,271.18 L148.15,271.19 L148.4,271.2 L148.65,271.2 L148.9,271.2 L149.15,271.2 L149.4,271.2 L149.65,271.19 L149.9,271.18 L150.15,271.17 L150.4,271.16 L150.65,271.14 L150.9,271.12 L151.15,271.09 L151.4,271.06 L151.65,271.02 L151.9,270.98 L152.15,270.93 L152.4,270.87 L152.65,270.79 L152.9,270.71 L153.15,270.61 L153.4,270.49 L153.65,270.35 L153.9,270.17 L154.15,269.96 L154.4,269.69 L154.65,269.35 L154.8,269.1 L154.9,268.91 L155.15,268.33 L155.4,267.54 L155.65,266.43 L155.71,266.13 L155.9,264.83 L156.15,262.38 L156.16,262.27 L156.4,258.44 L156.61,252.9 L156.65,251.61 L156.84,242.8 L156.9,238.95 L157.07,224.76 L157.15,215.33 L157.25,202.69 L157.38,185.61 L157.4,184 L157.52,177.87 L157.65,184.99 L157.66,185.61 L157.79,202.7 L157.9,216.55 L157.97,224.77 L158.15,239.64 L158.2,242.81 L158.4,251.98 L158.43,252.91 L158.65,258.65 L158.88,262.29 L158.9,262.52 L159.15,264.93 L159.33,266.16 L159.4,266.51 L159.65,267.6 L159.9,268.39 L160.15,268.97 L160.24,269.14 L160.4,269.4 L160.65,269.75 L160.9,270.02 L161.15,270.23 L161.4,270.41 L161.65,270.56 L161.9,270.68 L162.15,270.78 L162.4,270.87 L162.65,270.95 L162.9,271.01 L163.15,271.07 L163.4,271.12 L163.65,271.16 L163.9,271.2 L164.15,271.23 L164.4,271.26 L164.65,271.29 L164.9,271.31 L165.15,271.33 L165.4,271.35 L165.65,271.37 L165.9,271.39 L166.15,271.4 L166.4,271.41 L166.65,271.42 L166.9,271.43 L167.15,271.44 L167.4,271.44 L167.65,271.45 L167.9,271.45 L168.15,271.46 L168.4,271.46 L168.65,271.46 L168.9,271.46 L169.15,271.46 L169.4,271.46 L169.65,271.46 L169.9,271.46 L170.15,271.45 L170.4,271.45 L170.65,271.44 L170.9,271.43 L171.15,271.42 L171.4,271.41 L171.65,271.4 L171.9,271.38 L172.15,271.37 L172.4,271.35 L172.65,271.32 L172.9,271.3 L173.15,271.27 L173.4,271.23 L173.65,271.19 L173.9,271.14 L174.15,271.09 L174.4,271.02 L174.65,270.95 L174.9,270.85 L175.15,270.74 L175.4,270.61 L175.65,270.44 L175.9,270.22 L176.15,269.95 L176.4,269.59 L176.65,269.11 L176.72,268.95 L176.9,268.45 L177.15,267.49 L177.4,266.06 L177.45,265.73 L177.65,263.77 L177.81,261.54 L177.9,259.84 L178.15,252.39 L178.17,251.38 L178.36,240.43 L178.4,236.64 L178.54,220.88 L178.65,202.95 L178.68,196.96 L178.79,178.45 L178.9,170.06 L178.9,170.05 L179.01,178.45 L179.12,196.96 L179.15,202.27 L179.27,220.88 L179.4,236.29 L179.45,240.43 L179.63,251.38 L179.65,252.23 L179.9,259.77 L179.99,261.55 L180.15,263.74 L180.36,265.73 L180.4,266.04 L180.65,267.48 L180.9,268.45 L181.09,268.97 L181.15,269.11 L181.4,269.6 L181.65,269.96 L181.9,270.24 L182.15,270.45 L182.4,270.62 L182.65,270.76 L182.9,270.88 L183.15,270.97 L183.4,271.05 L183.65,271.12 L183.9,271.18 L184.15,271.23 L184.4,271.27 L184.65,271.3 L184.9,271.34 L185.15,271.36 L185.4,271.39 L185.65,271.41 L185.9,271.43 L186.15,271.45 L186.4,271.46 L186.65,271.47 L186.9,271.49 L187.15,271.5 L187.4,271.5 L187.65,271.51 L187.9,271.52 L188.15,271.52 L188.4,271.53 L188.65,271.53 L188.9,271.53 L189.15,271.53 L189.4,271.53 L189.65,271.53 L189.9,271.53 L190.15,271.53 L190.4,271.52 L190.65,271.51 L190.9,271.51 L191.15,271.5 L191.4,271.48 L191.65,271.47 L191.9,271.45 L192.15,271.43 L192.4,271.4 L192.65,271.37 L192.9,271.34 L193.15,271.29 L193.4,271.23 L193.65,271.16 L193.9,271.07 L194.15,270.96 L194.4,270.81 L194.65,270.62 L194.9,270.34 L195.15,269.95 L195.4,269.37 L195.51,269.02 L195.65,268.45 L195.9,266.86 L196,265.84 L196.15,263.8 L196.25,261.72 L196.4,256.88 L196.5,251.71 L196.62,240.93 L196.65,237.35 L196.74,221.69 L196.84,198.14 L196.9,183.66 L196.92,179.91 L196.99,171.65 L197.07,179.91 L197.14,198.14 L197.15,200.97 L197.24,221.69 L197.36,240.94 L197.4,245.01 L197.48,251.72 L197.65,259.42 L197.73,261.73 L197.9,264.87 L197.98,265.85 L198.15,267.4 L198.4,268.76 L198.47,269.03 L198.65,269.57 L198.9,270.1 L199.15,270.45 L199.4,270.7 L199.65,270.89 L199.9,271.03 L200.15,271.14 L200.4,271.22 L200.65,271.29 L200.9,271.35 L201.15,271.4 L201.4,271.44 L201.65,271.47 L201.9,271.5 L202.15,271.52 L202.4,271.54 L202.65,271.56 L202.9,271.58 L203.15,271.59 L203.4,271.61 L203.65,271.62 L203.9,271.63 L204.15,271.64 L204.4,271.65 L204.65,271.65 L204.9,271.66 L205.15,271.67 L205.4,271.67 L205.65,271.68 L205.9,271.68 L206.15,271.69 L206.4,271.69 L206.65,271.7 L206.7,271.7" fill="none" stroke="#ff0000" stroke-width="1.1" stroke-linejoin="round"/>
<path d="M43.9,271.1 L44.4,270.96 L44.9,270.78 L45.4,270.57 L45.9,270.32 L46.4,270.02 L46.9,269.67 L47.4,269.26 L47.9,268.78 L48.4,268.25 L48.9,267.65 L49.4,267.01 L49.9,266.34 L50.4,265.67 L50.9,265.02 L51.4,264.45 L51.9,263.99 L52.4,263.67 L52.9,263.53 L53.4,263.58 L53.9,263.8 L54.4,264.19 L54.9,264.7 L55.4,265.3 L55.9,265.95 L56.4,266.6 L56.9,267.23 L57.4,267.81 L57.9,268.33 L58.4,268.79 L58.9,269.17 L59.4,269.48 L59.9,269.72 L60.4,269.89 L60.9,270 L61.4,270.04 L61.9,270.02 L62.4,269.94 L62.9,269.79 L63.4,269.57 L63.9,269.28 L64.4,268.9 L64.9,268.44 L65.4,267.89 L65.9,267.25 L66.4,266.51 L66.9,265.68 L67.4,264.79 L67.9,263.84 L68.4,262.89 L68.9,261.98 L69.4,261.15 L69.9,260.48 L70.4,260 L70.9,259.77 L71.4,259.79 L71.9,260.08 L72.4,260.6 L72.9,261.31 L73.4,262.16 L73.9,263.09 L74.4,264.04 L74.9,264.98 L75.4,265.87 L75.9,266.69 L76.4,267.41 L76.9,268.05 L77.4,268.6 L77.9,269.06 L78.4,269.45 L78.9,269.76 L79.4,270 L79.9,270.19 L80.4,270.32 L80.9,270.4 L81.4,270.44 L81.9,270.43 L82.4,270.38 L82.9,270.28 L83.4,270.13 L83.9,269.93 L84.4,269.66 L84.9,269.33 L85.4,268.93 L85.9,268.44 L86.4,267.86 L86.9,267.18 L87.4,266.41 L87.9,265.54 L88.4,264.58 L88.9,263.55 L89.4,262.49 L89.9,261.43 L90.4,260.43 L90.9,259.55 L91.4,258.85 L91.9,258.38 L92.4,258.18 L92.9,258.27 L93.4,258.63 L93.9,259.25 L94.4,260.06 L94.9,261 L95.4,262.02 L95.9,263.06 L96.4,264.07 L96.9,265.01 L97.4,265.86 L97.9,266.61 L98.4,267.25 L98.9,267.77 L99.4,268.19 L99.9,268.5 L100.4,268.71 L100.9,268.83 L101.4,268.84 L101.9,268.76 L102.4,268.58 L102.9,268.3 L103.4,267.9 L103.9,267.4 L104.4,266.77 L104.9,266.03 L105.4,265.16 L105.9,264.17 L106.4,263.07 L106.9,261.9 L107.4,260.68 L107.9,259.48 L108.4,258.35 L108.9,257.36 L109.4,256.58 L109.9,256.07 L110.4,255.87 L110.9,255.99 L111.4,256.42 L111.9,257.11 L112.4,258.01 L112.9,259.04 L113.4,260.13 L113.9,261.21 L114.4,262.22 L114.9,263.13 L115.4,263.9 L115.9,264.51 L116.4,264.96 L116.9,265.24 L117.4,265.35 L117.9,265.31 L118.4,265.13 L118.9,264.83 L119.4,264.44 L119.9,263.98 L120.4,263.49 L120.9,263.01 L121.4,262.57 L121.9,262.19 L122.4,261.9 L122.9,261.69 L123.4,261.55 L123.9,261.47 L124.4,261.43 L124.9,261.42 L125.4,261.42 L125.9,261.45 L126.4,261.51 L126.9,261.62 L127.4,261.8 L127.9,262.07 L128.4,262.41 L128.9,262.83 L129.4,263.3 L129.9,263.79 L130.4,264.26 L130.9,264.69 L131.4,265.03 L131.9,265.26 L132.4,265.36 L132.9,265.3 L133.4,265.09 L133.9,264.71 L134.4,264.16 L134.9,263.46 L135.4,262.6 L135.9,261.62 L136.4,260.57 L136.9,259.47 L137.4,258.41 L137.9,257.45 L138.4,256.67 L138.9,256.13 L139.4,255.88 L139.9,255.95 L140.4,256.34 L140.9,257.02 L141.4,257.93 L141.9,259.01 L142.4,260.2 L142.9,261.42 L143.4,262.61 L143.9,263.74 L144.4,264.77 L144.9,265.69 L145.4,266.49 L145.9,267.16 L146.4,267.72 L146.9,268.15 L147.4,268.48 L147.9,268.7 L148.4,268.82 L148.9,268.84 L149.4,268.77 L149.9,268.6 L150.4,268.33 L150.9,267.95 L151.4,267.47 L151.9,266.88 L152.4,266.17 L152.9,265.36 L153.4,264.45 L153.9,263.47 L154.4,262.44 L154.9,261.41 L155.4,260.42 L155.9,259.55 L156.4,258.85 L156.9,258.38 L157.4,258.18 L157.9,258.26 L158.4,258.63 L158.9,259.24 L159.4,260.06 L159.9,261.02 L160.4,262.06 L160.9,263.13 L161.4,264.18 L161.9,265.16 L162.4,266.07 L162.9,266.89 L163.4,267.6 L163.9,268.22 L164.4,268.74 L164.9,269.18 L165.4,269.54 L165.9,269.83 L166.4,270.06 L166.9,270.23 L167.4,270.35 L167.9,270.42 L168.4,270.44 L168.9,270.43 L169.4,270.36 L169.9,270.25 L170.4,270.08 L170.9,269.86 L171.4,269.58 L171.9,269.22 L172.4,268.8 L172.9,268.28 L173.4,267.68 L173.9,266.99 L174.4,266.21 L174.9,265.35 L175.4,264.42 L175.9,263.47 L176.4,262.53 L176.9,261.64 L177.4,260.87 L177.9,260.26 L178.4,259.88 L178.9,259.75 L179.4,259.88 L179.9,260.26 L180.4,260.86 L180.9,261.63 L181.4,262.52 L181.9,263.46 L182.4,264.41 L182.9,265.33 L183.4,266.19 L183.9,266.96 L184.4,267.64 L184.9,268.23 L185.4,268.73 L185.9,269.14 L186.4,269.46 L186.9,269.71 L187.4,269.89 L187.9,270 L188.4,270.04 L188.9,270.02 L189.4,269.94 L189.9,269.79 L190.4,269.58 L190.9,269.3 L191.4,268.95 L191.9,268.52 L192.4,268.03 L192.9,267.47 L193.4,266.85 L193.9,266.21 L194.4,265.56 L194.9,264.93 L195.4,264.38 L195.9,263.94 L196.4,263.65 L196.9,263.53 L197.4,263.59 L197.9,263.84 L198.4,264.25 L198.9,264.78 L199.4,265.4 L199.9,266.07 L200.4,266.75 L200.9,267.4 L201.4,268.02 L201.9,268.58 L202.4,269.08 L202.9,269.51 L203.4,269.89 L203.9,270.21 L204.4,270.48 L204.9,270.7 L205.4,270.89 L205.9,271.04 L206.4,271.17" fill="none" stroke="#1a1aff" stroke-width="1.15" stroke-dasharray="3,1.5" stroke-linejoin="round"/>
</g>
<text transform="translate(42.3,277.4) scale(1.0,1.13)" text-anchor="end" class="tk">0.0</text>
<text transform="translate(42.3,256.44) scale(1.0,1.13)" text-anchor="end" class="tk">0.2</text>
<text transform="translate(42.3,235.48) scale(1.0,1.13)" text-anchor="end" class="tk">0.4</text>
<text transform="translate(42.3,214.52) scale(1.0,1.13)" text-anchor="end" class="tk">0.6</text>
<text transform="translate(42.3,193.56) scale(1.0,1.13)" text-anchor="end" class="tk">0.8</text>
<text transform="translate(42.3,172.6) scale(1.0,1.13)" text-anchor="end" class="tk">1.0</text>
<text transform="translate(44,289.3) scale(1.0,0.98)" text-anchor="middle" class="xt">−0.2</text>
<text transform="translate(84.65,289.3) scale(1.0,0.98)" text-anchor="middle" class="xt">−0.1</text>
<text transform="translate(125.3,289.3) scale(1.0,0.98)" text-anchor="middle" class="xt">0</text>
<text transform="translate(165.95,289.3) scale(1.0,0.98)" text-anchor="middle" class="xt">0.1</text>
<text transform="translate(206.6,289.3) scale(1.0,0.98)" text-anchor="middle" class="xt">0.2</text>
<text transform="translate(125,306.7) scale(1.0,1.05)" text-anchor="middle" class="xl">V (meV)</text>
<text transform="translate(21.3,220.45) rotate(-90) scale(1.166,1.0)" text-anchor="middle" class="ax">dI/dV (2<tspan font-style="italic">e</tspan><tspan dy="-5.8" font-size="8">2</tspan><tspan dy="5.8">/h)</tspan></text>
<text transform="translate(138.2,184.3) scale(1.0,1.18)" text-anchor="start" class="an">Vx=1 meV</text>
<text transform="translate(138.2,200.2) scale(1.0,1.18)" text-anchor="start" class="an">Vy=0.6 meV</text>
</g>
<g id="p3">
<path d="M278.1,274.2v-2.2M299.55,274.2v-1.2M321,274.2v-2.2M342.45,274.2v-1.2M363.9,274.2v-2.2M385.35,274.2v-1.2M406.8,274.2v-2.2M428.25,274.2v-1.2M449.7,274.2v-2.2M278.5,271.7h2.2M278.5,265.91h1.2M278.5,260.12h1.2M278.5,254.33h1.2M278.5,248.54h2.2M278.5,242.75h1.2M278.5,236.96h1.2M278.5,231.17h1.2M278.5,225.38h2.2M278.5,219.59h1.2M278.5,213.8h1.2M278.5,208.01h1.2M278.5,202.22h2.2M278.5,196.43h1.2M278.5,190.64h1.2M278.5,184.85h1.2M278.5,179.06h2.2M278.5,173.27h1.2M278.5,167.48h1.2M278.5,161.69h1.2" stroke="#c8c8c8" stroke-width="0.6" fill="none"/>
<rect x="278.5" y="159.3" width="171.1" height="114.9" fill="none" stroke="#c8c8c8" stroke-width="0.75"/>
<clipPath id="c3"><rect x="278.5" y="159.3" width="171.1" height="114.9"/></clipPath>
<g clip-path="url(#c3)">
<path d="M278.5,271.33 L278.75,271.31 L279,271.28 L279.25,271.26 L279.5,271.23 L279.75,271.2 L280,271.17 L280.25,271.14 L280.5,271.09 L280.75,271.05 L281,271 L281.25,270.94 L281.5,270.88 L281.75,270.8 L282,270.72 L282.25,270.62 L282.5,270.5 L282.75,270.37 L283,270.21 L283.25,270.02 L283.5,269.79 L283.75,269.5 L284,269.15 L284.19,268.82 L284.25,268.7 L284.5,268.12 L284.75,267.35 L285,266.3 L285.15,265.5 L285.25,264.84 L285.5,262.69 L285.63,261.21 L285.75,259.41 L286,254.08 L286.11,250.78 L286.25,244.87 L286.35,239.56 L286.5,228.08 L286.59,219.51 L286.75,198.96 L286.78,194.99 L286.92,176.01 L287,169.34 L287.07,167.4 L287.21,176.01 L287.25,180.76 L287.35,194.99 L287.5,214.31 L287.55,219.51 L287.75,237.26 L287.79,239.55 L288,249.87 L288.03,250.77 L288.25,256.92 L288.5,261.13 L288.5,261.19 L288.75,263.79 L288.98,265.48 L289,265.57 L289.25,266.81 L289.5,267.71 L289.75,268.38 L289.94,268.79 L290,268.89 L290.25,269.29 L290.5,269.6 L290.75,269.86 L291,270.07 L291.25,270.24 L291.5,270.38 L291.75,270.51 L292,270.61 L292.25,270.7 L292.5,270.77 L292.75,270.84 L293,270.9 L293.25,270.95 L293.5,270.99 L293.75,271.03 L294,271.06 L294.25,271.09 L294.5,271.12 L294.75,271.14 L295,271.16 L295.25,271.18 L295.5,271.2 L295.75,271.21 L296,271.22 L296.25,271.23 L296.5,271.24 L296.75,271.25 L297,271.26 L297.25,271.26 L297.5,271.26 L297.75,271.27 L298,271.27 L298.25,271.27 L298.5,271.27 L298.75,271.27 L299,271.26 L299.25,271.26 L299.5,271.25 L299.75,271.25 L300,271.24 L300.25,271.23 L300.5,271.22 L300.75,271.21 L301,271.19 L301.25,271.18 L301.5,271.16 L301.75,271.14 L302,271.12 L302.25,271.09 L302.5,271.07 L302.75,271.04 L303,271 L303.25,270.96 L303.5,270.92 L303.75,270.87 L304,270.82 L304.25,270.76 L304.5,270.69 L304.75,270.6 L305,270.51 L305.25,270.4 L305.5,270.28 L305.75,270.13 L306,269.96 L306.25,269.75 L306.5,269.5 L306.75,269.2 L306.96,268.88 L307,268.82 L307.25,268.35 L307.5,267.75 L307.75,266.96 L308,265.91 L308.04,265.72 L308.25,264.47 L308.5,262.42 L308.58,261.62 L308.75,259.38 L309,254.68 L309.11,251.66 L309.25,247 L309.38,240.93 L309.5,233.91 L309.65,221.78 L309.75,211.85 L309.87,198.35 L310,182.96 L310.03,180.21 L310.19,171.98 L310.25,173.24 L310.35,180.21 L310.5,196.94 L310.51,198.35 L310.73,221.78 L310.75,223.89 L311,240.93 L311,241.16 L311.25,251.22 L311.26,251.65 L311.5,257.23 L311.75,261.01 L311.8,261.61 L312,263.5 L312.25,265.22 L312.34,265.7 L312.5,266.45 L312.75,267.36 L313,268.04 L313.25,268.58 L313.41,268.86 L313.5,269 L313.75,269.33 L314,269.61 L314.25,269.83 L314.5,270.02 L314.75,270.18 L315,270.31 L315.25,270.43 L315.5,270.52 L315.75,270.61 L316,270.68 L316.25,270.75 L316.5,270.8 L316.75,270.85 L317,270.89 L317.25,270.93 L317.5,270.96 L317.75,270.99 L318,271.02 L318.25,271.04 L318.5,271.06 L318.75,271.08 L319,271.09 L319.25,271.11 L319.5,271.12 L319.75,271.12 L320,271.13 L320.25,271.13 L320.5,271.14 L320.75,271.14 L321,271.14 L321.25,271.14 L321.5,271.13 L321.75,271.13 L322,271.12 L322.25,271.11 L322.5,271.1 L322.75,271.08 L323,271.07 L323.25,271.05 L323.5,271.03 L323.75,271 L324,270.97 L324.25,270.94 L324.5,270.91 L324.75,270.87 L325,270.82 L325.25,270.77 L325.5,270.71 L325.75,270.64 L326,270.56 L326.25,270.47 L326.5,270.36 L326.75,270.24 L327,270.1 L327.25,269.93 L327.5,269.72 L327.75,269.48 L328,269.18 L328.25,268.82 L328.37,268.62 L328.5,268.36 L328.75,267.78 L329,267.02 L329.25,266.02 L329.42,265.16 L329.5,264.65 L329.75,262.71 L329.94,260.68 L330,259.88 L330.25,255.54 L330.46,249.8 L330.5,248.51 L330.72,238.08 L330.75,236.54 L330.99,217.14 L331,215.74 L331.2,191.53 L331.25,184.3 L331.35,171.71 L331.5,162.76 L331.51,162.72 L331.67,171.71 L331.75,181.54 L331.82,191.53 L332,213.46 L332.03,217.14 L332.25,235.2 L332.3,238.08 L332.5,247.74 L332.56,249.8 L332.75,255.08 L333,259.59 L333.08,260.68 L333.25,262.52 L333.5,264.51 L333.61,265.17 L333.75,265.92 L334,266.95 L334.25,267.73 L334.5,268.32 L334.65,268.62 L334.75,268.79 L335,269.16 L335.25,269.46 L335.5,269.71 L335.75,269.92 L336,270.09 L336.25,270.24 L336.5,270.36 L336.75,270.46 L337,270.56 L337.25,270.63 L337.5,270.7 L337.75,270.76 L338,270.81 L338.25,270.85 L338.5,270.89 L338.75,270.92 L339,270.95 L339.25,270.97 L339.5,270.99 L339.75,271 L340,271.01 L340.25,271.02 L340.5,271.02 L340.75,271.01 L341,271 L341.25,270.98 L341.5,270.95 L341.75,270.91 L342,270.86 L342.25,270.79 L342.5,270.7 L342.75,270.58 L343,270.42 L343.25,270.19 L343.5,269.87 L343.69,269.54 L343.75,269.4 L344,268.65 L344.25,267.41 L344.26,267.34 L344.5,265.14 L344.55,264.49 L344.75,260.37 L344.84,257.55 L344.98,250.07 L345,248.56 L345.12,236.71 L345.24,220.37 L345.25,218.43 L345.32,207.71 L345.41,201.98 L345.5,207.72 L345.5,208.17 L345.58,220.37 L345.7,236.72 L345.75,242.49 L345.84,250.09 L345.98,257.57 L346,258.14 L346.25,264.19 L346.27,264.52 L346.5,266.95 L346.56,267.39 L346.75,268.42 L347,269.28 L347.13,269.6 L347.25,269.83 L347.5,270.19 L347.75,270.45 L348,270.64 L348.25,270.78 L348.5,270.89 L348.75,270.98 L349,271.04 L349.25,271.1 L349.5,271.14 L349.75,271.18 L350,271.21 L350.25,271.24 L350.5,271.26 L350.75,271.27 L351,271.29 L351.25,271.3 L351.5,271.31 L351.75,271.31 L352,271.32 L352.25,271.32 L352.5,271.32 L352.75,271.31 L353,271.31 L353.25,271.3 L353.5,271.28 L353.75,271.27 L354,271.25 L354.25,271.22 L354.5,271.19 L354.75,271.15 L355,271.09 L355.25,271.03 L355.5,270.94 L355.75,270.82 L356,270.67 L356.25,270.46 L356.38,270.32 L356.5,270.15 L356.75,269.68 L357,268.94 L357.01,268.9 L357.25,267.66 L357.33,267.07 L357.5,265.19 L357.65,262.61 L357.75,259.76 L357.8,257.81 L357.96,249.24 L358,246.46 L358.09,238.75 L358.18,230.63 L358.25,227.34 L358.28,226.95 L358.38,230.63 L358.47,238.75 L358.5,241.4 L358.6,249.24 L358.75,257.56 L358.76,257.81 L358.92,262.61 L359,264.27 L359.23,267.07 L359.25,267.21 L359.5,268.7 L359.55,268.9 L359.75,269.54 L360,270.06 L360.18,270.32 L360.25,270.39 L360.5,270.63 L360.75,270.79 L361,270.92 L361.25,271.01 L361.5,271.08 L361.75,271.13 L362,271.18 L362.25,271.21 L362.5,271.24 L362.75,271.26 L363,271.27 L363.25,271.29 L363.5,271.29 L363.75,271.3 L364,271.3 L364.25,271.29 L364.5,271.29 L364.75,271.28 L365,271.26 L365.25,271.24 L365.5,271.22 L365.75,271.19 L366,271.14 L366.25,271.09 L366.5,271.02 L366.75,270.94 L367,270.82 L367.25,270.66 L367.5,270.45 L367.62,270.32 L367.75,270.13 L368,269.66 L368.25,268.9 L368.25,268.9 L368.5,267.59 L368.57,267.07 L368.75,265.05 L368.88,262.61 L369,259.42 L369.04,257.81 L369.2,249.24 L369.25,245.65 L369.33,238.75 L369.42,230.63 L369.5,227.12 L369.52,226.95 L369.62,230.63 L369.71,238.75 L369.75,242.3 L369.84,249.24 L370,257.81 L370,257.97 L370.15,262.61 L370.25,264.44 L370.47,267.07 L370.5,267.29 L370.75,268.74 L370.79,268.9 L371,269.56 L371.25,270.07 L371.42,270.32 L371.5,270.4 L371.75,270.63 L372,270.8 L372.25,270.92 L372.5,271.01 L372.75,271.08 L373,271.14 L373.25,271.18 L373.5,271.21 L373.75,271.24 L374,271.26 L374.25,271.28 L374.5,271.29 L374.75,271.3 L375,271.31 L375.25,271.31 L375.5,271.32 L375.75,271.32 L376,271.31 L376.25,271.31 L376.5,271.3 L376.75,271.29 L377,271.28 L377.25,271.26 L377.5,271.24 L377.75,271.22 L378,271.19 L378.25,271.15 L378.5,271.11 L378.75,271.06 L379,270.99 L379.25,270.91 L379.5,270.81 L379.75,270.67 L380,270.49 L380.25,270.25 L380.5,269.91 L380.67,269.6 L380.75,269.41 L381,268.63 L381.24,267.39 L381.25,267.32 L381.5,264.91 L381.53,264.52 L381.75,259.8 L381.82,257.57 L381.96,250.09 L382,247 L382.1,236.72 L382.22,220.37 L382.25,215.29 L382.3,207.72 L382.39,201.98 L382.48,207.71 L382.5,210.86 L382.56,220.37 L382.68,236.71 L382.75,244.41 L382.82,250.07 L382.96,257.55 L383,258.82 L383.25,264.46 L383.25,264.49 L383.5,267.07 L383.54,267.34 L383.75,268.46 L384,269.27 L384.11,269.54 L384.25,269.79 L384.5,270.14 L384.75,270.38 L385,270.55 L385.25,270.68 L385.5,270.77 L385.75,270.85 L386,270.9 L386.25,270.94 L386.5,270.97 L386.75,270.99 L387,271.01 L387.25,271.01 L387.5,271.02 L387.75,271.01 L388,271.01 L388.25,270.99 L388.5,270.98 L388.75,270.96 L389,270.93 L389.25,270.9 L389.5,270.86 L389.75,270.82 L390,270.77 L390.25,270.71 L390.5,270.65 L390.75,270.57 L391,270.48 L391.25,270.38 L391.5,270.26 L391.75,270.12 L392,269.95 L392.25,269.76 L392.5,269.52 L392.75,269.23 L393,268.87 L393.15,268.62 L393.25,268.42 L393.5,267.86 L393.75,267.12 L394,266.15 L394.19,265.17 L394.25,264.83 L394.5,262.98 L394.72,260.68 L394.75,260.28 L395,256.15 L395.24,249.8 L395.25,249.53 L395.5,238.3 L395.5,238.08 L395.75,218.75 L395.77,217.14 L395.98,191.53 L396,188.19 L396.13,171.71 L396.25,163.33 L396.29,162.72 L396.45,171.71 L396.5,177.85 L396.6,191.53 L396.75,210.17 L396.81,217.14 L397,233.24 L397.08,238.08 L397.25,246.62 L397.34,249.8 L397.5,254.4 L397.75,259.16 L397.86,260.68 L398,262.23 L398.25,264.31 L398.38,265.16 L398.5,265.78 L398.75,266.84 L399,267.64 L399.25,268.25 L399.43,268.62 L399.5,268.73 L399.75,269.12 L400,269.43 L400.25,269.68 L400.5,269.89 L400.75,270.07 L401,270.21 L401.25,270.34 L401.5,270.45 L401.75,270.54 L402,270.62 L402.25,270.69 L402.5,270.76 L402.75,270.81 L403,270.86 L403.25,270.9 L403.5,270.94 L403.75,270.97 L404,271 L404.25,271.02 L404.5,271.04 L404.75,271.06 L405,271.08 L405.25,271.09 L405.5,271.11 L405.75,271.12 L406,271.12 L406.25,271.13 L406.5,271.13 L406.75,271.14 L407,271.14 L407.25,271.14 L407.5,271.14 L407.75,271.13 L408,271.12 L408.25,271.12 L408.5,271.11 L408.75,271.1 L409,271.08 L409.25,271.06 L409.5,271.05 L409.75,271.02 L410,271 L410.25,270.97 L410.5,270.94 L410.75,270.9 L411,270.86 L411.25,270.81 L411.5,270.76 L411.75,270.69 L412,270.62 L412.25,270.54 L412.5,270.45 L412.75,270.34 L413,270.21 L413.25,270.05 L413.5,269.87 L413.75,269.66 L414,269.39 L414.25,269.07 L414.39,268.86 L414.5,268.67 L414.75,268.16 L415,267.51 L415.25,266.65 L415.46,265.7 L415.5,265.5 L415.75,263.89 L416,261.61 L416,261.59 L416.25,258.13 L416.5,252.67 L416.54,251.65 L416.75,243.63 L416.8,240.93 L417,228.1 L417.07,221.78 L417.25,202.91 L417.29,198.35 L417.45,180.21 L417.5,176.04 L417.61,171.98 L417.75,178.24 L417.77,180.21 L417.93,198.35 L418,206.24 L418.15,221.78 L418.25,230.32 L418.42,240.93 L418.5,244.92 L418.69,251.66 L418.75,253.44 L419,258.61 L419.22,261.62 L419.25,261.91 L419.5,264.12 L419.75,265.66 L419.76,265.72 L420,266.78 L420.25,267.61 L420.5,268.24 L420.75,268.74 L420.84,268.88 L421,269.13 L421.25,269.45 L421.5,269.71 L421.75,269.92 L422,270.1 L422.25,270.25 L422.5,270.38 L422.75,270.49 L423,270.59 L423.25,270.67 L423.5,270.74 L423.75,270.81 L424,270.86 L424.25,270.91 L424.5,270.96 L424.75,270.99 L425,271.03 L425.25,271.06 L425.5,271.09 L425.75,271.11 L426,271.14 L426.25,271.16 L426.5,271.17 L426.75,271.19 L427,271.2 L427.25,271.22 L427.5,271.23 L427.75,271.24 L428,271.24 L428.25,271.25 L428.5,271.26 L428.75,271.26 L429,271.26 L429.25,271.27 L429.5,271.27 L429.75,271.27 L430,271.27 L430.25,271.27 L430.5,271.26 L430.75,271.26 L431,271.25 L431.25,271.24 L431.5,271.24 L431.75,271.23 L432,271.21 L432.25,271.2 L432.5,271.18 L432.75,271.17 L433,271.15 L433.25,271.12 L433.5,271.1 L433.75,271.07 L434,271.04 L434.25,271 L434.5,270.96 L434.75,270.91 L435,270.85 L435.25,270.79 L435.5,270.71 L435.75,270.63 L436,270.53 L436.25,270.41 L436.5,270.27 L436.75,270.1 L437,269.9 L437.25,269.66 L437.5,269.36 L437.75,268.98 L437.86,268.79 L438,268.49 L438.25,267.86 L438.5,267.02 L438.75,265.85 L438.82,265.48 L439,264.2 L439.25,261.76 L439.3,261.19 L439.5,257.93 L439.75,251.61 L439.77,250.77 L440,240.43 L440.01,239.55 L440.25,219.97 L440.25,219.51 L440.45,194.99 L440.5,187.42 L440.59,176.01 L440.73,167.4 L440.75,167.52 L440.88,176.01 L441,191.93 L441.02,194.99 L441.21,219.51 L441.25,223.33 L441.45,239.56 L441.5,242.28 L441.69,250.78 L441.75,252.64 L442,258.55 L442.17,261.21 L442.25,262.15 L442.5,264.47 L442.65,265.5 L442.75,266.05 L443,267.16 L443.25,267.98 L443.5,268.59 L443.61,268.82 L443.75,269.07 L444,269.44 L444.25,269.73 L444.5,269.98 L444.75,270.17 L445,270.34 L445.25,270.48 L445.5,270.6 L445.75,270.7 L446,270.79 L446.25,270.86 L446.5,270.93 L446.75,270.99 L447,271.04 L447.25,271.09 L447.5,271.13 L447.75,271.16 L448,271.2 L448.25,271.23 L448.5,271.26 L448.75,271.28 L449,271.3 L449.25,271.32 L449.5,271.34 L449.6,271.35" fill="none" stroke="#ff0000" stroke-width="1.1" stroke-linejoin="round"/>
<path d="M278.5,269.64 L279,269.26 L279.5,268.81 L280,268.29 L280.5,267.69 L281,266.99 L281.5,266.19 L282,265.31 L282.5,264.33 L283,263.27 L283.5,262.16 L284,261.03 L284.5,259.93 L285,258.9 L285.5,258 L286,257.3 L286.5,256.84 L287,256.65 L287.5,256.75 L288,257.14 L288.5,257.77 L289,258.61 L289.5,259.6 L290,260.68 L290.5,261.8 L291,262.9 L291.5,263.96 L292,264.95 L292.5,265.84 L293,266.64 L293.5,267.34 L294,267.94 L294.5,268.46 L295,268.89 L295.5,269.24 L296,269.53 L296.5,269.75 L297,269.92 L297.5,270.03 L298,270.1 L298.5,270.13 L299,270.1 L299.5,270.03 L300,269.92 L300.5,269.75 L301,269.53 L301.5,269.25 L302,268.89 L302.5,268.47 L303,267.96 L303.5,267.36 L304,266.66 L304.5,265.86 L305,264.96 L305.5,263.96 L306,262.88 L306.5,261.73 L307,260.56 L307.5,259.39 L308,258.3 L308.5,257.33 L309,256.55 L309.5,256 L310,255.74 L310.5,255.77 L311,256.1 L311.5,256.7 L312,257.53 L312.5,258.52 L313,259.63 L313.5,260.8 L314,261.96 L314.5,263.08 L315,264.13 L315.5,265.09 L316,265.95 L316.5,266.7 L317,267.35 L317.5,267.9 L318,268.35 L318.5,268.71 L319,269 L319.5,269.2 L320,269.34 L320.5,269.41 L321,269.41 L321.5,269.35 L322,269.21 L322.5,269.01 L323,268.73 L323.5,268.37 L324,267.91 L324.5,267.36 L325,266.71 L325.5,265.94 L326,265.07 L326.5,264.08 L327,262.99 L327.5,261.81 L328,260.57 L328.5,259.31 L329,258.09 L329.5,256.96 L330,255.98 L330.5,255.22 L331,254.74 L331.5,254.56 L332,254.7 L332.5,255.15 L333,255.86 L333.5,256.8 L334,257.89 L334.5,259.06 L335,260.26 L335.5,261.44 L336,262.55 L336.5,263.55 L337,264.44 L337.5,265.19 L338,265.81 L338.5,266.29 L339,266.64 L339.5,266.86 L340,266.96 L340.5,266.94 L341,266.83 L341.5,266.64 L342,266.38 L342.5,266.08 L343,265.76 L343.5,265.45 L344,265.18 L344.5,264.98 L345,264.88 L345.5,264.88 L346,265 L346.5,265.22 L347,265.54 L347.5,265.92 L348,266.35 L348.5,266.79 L349,267.22 L349.5,267.62 L350,267.98 L350.5,268.28 L351,268.52 L351.5,268.69 L352,268.79 L352.5,268.82 L353,268.78 L353.5,268.68 L354,268.52 L354.5,268.32 L355,268.08 L355.5,267.82 L356,267.56 L356.5,267.31 L357,267.1 L357.5,266.94 L358,266.85 L358.5,266.84 L359,266.9 L359.5,267.04 L360,267.22 L360.5,267.45 L361,267.68 L361.5,267.92 L362,268.14 L362.5,268.32 L363,268.45 L363.5,268.53 L364,268.55 L364.5,268.5 L365,268.4 L365.5,268.25 L366,268.05 L366.5,267.83 L367,267.59 L367.5,267.35 L368,267.14 L368.5,266.98 L369,266.87 L369.5,266.84 L370,266.88 L370.5,267 L371,267.18 L371.5,267.4 L372,267.66 L372.5,267.92 L373,268.18 L373.5,268.4 L374,268.59 L374.5,268.73 L375,268.8 L375.5,268.81 L376,268.76 L376.5,268.63 L377,268.43 L377.5,268.17 L378,267.85 L378.5,267.47 L379,267.05 L379.5,266.61 L380,266.17 L380.5,265.76 L381,265.4 L381.5,265.12 L382,264.94 L382.5,264.86 L383,264.9 L383.5,265.05 L384,265.28 L384.5,265.57 L385,265.88 L385.5,266.2 L386,266.49 L386.5,266.73 L387,266.89 L387.5,266.96 L388,266.93 L388.5,266.78 L389,266.51 L389.5,266.11 L390,265.58 L390.5,264.91 L391,264.1 L391.5,263.16 L392,262.11 L392.5,260.98 L393,259.78 L393.5,258.59 L394,257.44 L394.5,256.4 L395,255.55 L395.5,254.93 L396,254.61 L396.5,254.59 L397,254.9 L397.5,255.5 L398,256.35 L398.5,257.4 L399,258.57 L399.5,259.82 L400,261.07 L400.5,262.29 L401,263.43 L401.5,264.49 L402,265.43 L402.5,266.26 L403,266.98 L403.5,267.59 L404,268.1 L404.5,268.52 L405,268.85 L405.5,269.1 L406,269.27 L406.5,269.38 L407,269.42 L407.5,269.39 L408,269.29 L408.5,269.13 L409,268.89 L409.5,268.58 L410,268.18 L410.5,267.69 L411,267.1 L411.5,266.41 L412,265.62 L412.5,264.72 L413,263.72 L413.5,262.64 L414,261.5 L414.5,260.33 L415,259.18 L415.5,258.11 L416,257.17 L416.5,256.43 L417,255.93 L417.5,255.72 L418,255.81 L418.5,256.19 L419,256.83 L419.5,257.7 L420,258.73 L420.5,259.85 L421,261.03 L421.5,262.2 L422,263.32 L422.5,264.37 L423,265.34 L423.5,266.2 L424,266.95 L424.5,267.61 L425,268.17 L425.5,268.65 L426,269.04 L426.5,269.37 L427,269.62 L427.5,269.82 L428,269.97 L428.5,270.07 L429,270.12 L429.5,270.12 L430,270.08 L430.5,269.99 L431,269.86 L431.5,269.67 L432,269.42 L432.5,269.11 L433,268.72 L433.5,268.26 L434,267.71 L434.5,267.07 L435,266.33 L435.5,265.5 L436,264.56 L436.5,263.55 L437,262.46 L437.5,261.35 L438,260.24 L438.5,259.19 L439,258.25 L439.5,257.49 L440,256.95 L440.5,256.68 L441,256.69 L441.5,256.99 L442,257.55 L442.5,258.34 L443,259.3 L443.5,260.36 L444,261.48 L444.5,262.61 L445,263.7 L445.5,264.73 L446,265.67 L446.5,266.52 L447,267.28 L447.5,267.94 L448,268.51 L448.5,269 L449,269.42 L449.5,269.77" fill="none" stroke="#1a1aff" stroke-width="1.15" stroke-dasharray="3,1.5" stroke-linejoin="round"/>
</g>
<text transform="translate(276.9,277.58) scale(1.05,1.1865)" text-anchor="end" class="tk">0.0</text>
<text transform="translate(276.9,254.42) scale(1.05,1.1865)" text-anchor="end" class="tk">0.2</text>
<text transform="translate(276.9,231.26) scale(1.05,1.1865)" text-anchor="end" class="tk">0.4</text>
<text transform="translate(276.9,208.1) scale(1.05,1.1865)" text-anchor="end" class="tk">0.6</text>
<text transform="translate(276.9,184.94) scale(1.05,1.1865)" text-anchor="end" class="tk">0.8</text>
<text transform="translate(278.4,288.2) scale(1.025,1.0045)" text-anchor="middle" class="xt">−0.2</text>
<text transform="translate(321.3,288.2) scale(1.025,1.0045)" text-anchor="middle" class="xt">−0.1</text>
<text transform="translate(364.2,288.2) scale(1.025,1.0045)" text-anchor="middle" class="xt">0</text>
<text transform="translate(407.1,288.2) scale(1.025,1.0045)" text-anchor="middle" class="xt">0.1</text>
<text transform="translate(450,288.2) scale(1.025,1.0045)" text-anchor="middle" class="xt">0.2</text>
<text transform="translate(363.75,306.1) scale(1.025,1.0762)" text-anchor="middle" class="xl">V (meV)</text>
<text transform="translate(255.9,217.35) rotate(-90) scale(1.2243,1.05)" text-anchor="middle" class="ax">dI/dV (2<tspan font-style="italic">e</tspan><tspan dy="-5.8" font-size="8">2</tspan><tspan dy="5.8">/h)</tspan></text>
<text transform="translate(380.9,178.2) scale(1.0,1.18)" text-anchor="start" class="an">Vx=1 meV</text>
<text transform="translate(380.9,193.2) scale(1.0,1.18)" text-anchor="start" class="an">Vy=0.8 meV</text>
</g>
</svg>
</body></html>
